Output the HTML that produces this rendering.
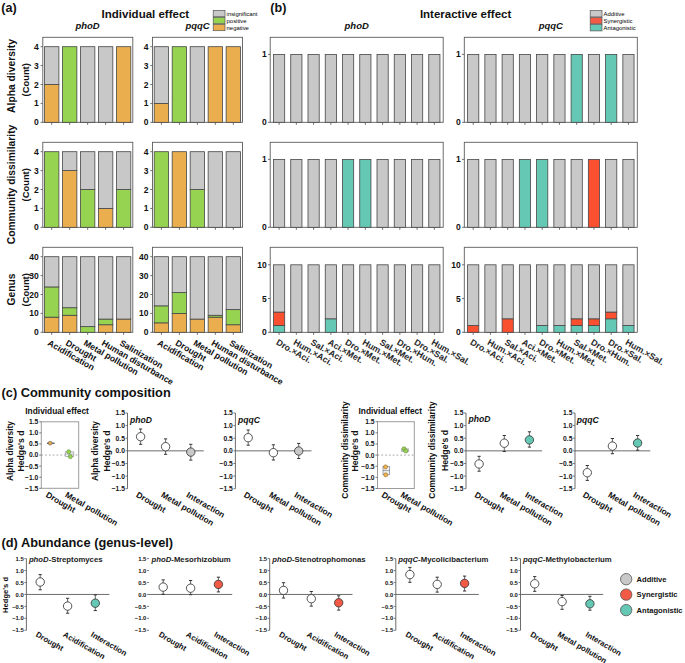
<!DOCTYPE html>
<html><head><meta charset="utf-8"><style>
html,body{margin:0;padding:0;background:#fff;}
svg{display:block;}
</style></head><body>
<svg width="685" height="663" viewBox="0 0 685 663" font-family="Liberation Sans, sans-serif">
<rect width="685" height="663" fill="#fff"/>
<rect x="42.8" y="37.3" width="90" height="85" fill="none" stroke="#5c5c5c" stroke-width="0.9"/>
<rect x="44.5" y="84.5" width="14.4" height="37.8" fill="#ebae4e" stroke="#464646" stroke-width="0.8"/>
<rect x="44.5" y="46.7" width="14.4" height="37.8" fill="#c8c8c8" stroke="#464646" stroke-width="0.8"/>
<rect x="62.48" y="46.7" width="14.4" height="75.6" fill="#96d350" stroke="#464646" stroke-width="0.8"/>
<rect x="80.46" y="46.7" width="14.4" height="75.6" fill="#c8c8c8" stroke="#464646" stroke-width="0.8"/>
<rect x="98.44" y="46.7" width="14.4" height="75.6" fill="#c8c8c8" stroke="#464646" stroke-width="0.8"/>
<rect x="116.42" y="46.7" width="14.4" height="75.6" fill="#ebae4e" stroke="#464646" stroke-width="0.8"/>
<line x1="51.7" y1="122.3" x2="51.7" y2="124.8" stroke="#5c5c5c" stroke-width="0.9"/>
<line x1="69.68" y1="122.3" x2="69.68" y2="124.8" stroke="#5c5c5c" stroke-width="0.9"/>
<line x1="87.66" y1="122.3" x2="87.66" y2="124.8" stroke="#5c5c5c" stroke-width="0.9"/>
<line x1="105.64" y1="122.3" x2="105.64" y2="124.8" stroke="#5c5c5c" stroke-width="0.9"/>
<line x1="123.62" y1="122.3" x2="123.62" y2="124.8" stroke="#5c5c5c" stroke-width="0.9"/>
<line x1="40.6" y1="122.3" x2="42.8" y2="122.3" stroke="#5c5c5c" stroke-width="0.9"/>
<text x="38.8" y="125.36" font-size="8.5" font-weight="bold" font-style="normal" text-anchor="end" fill="#111">0</text>
<line x1="40.6" y1="103.4" x2="42.8" y2="103.4" stroke="#5c5c5c" stroke-width="0.9"/>
<text x="38.8" y="106.46" font-size="8.5" font-weight="bold" font-style="normal" text-anchor="end" fill="#111">1</text>
<line x1="40.6" y1="84.5" x2="42.8" y2="84.5" stroke="#5c5c5c" stroke-width="0.9"/>
<text x="38.8" y="87.56" font-size="8.5" font-weight="bold" font-style="normal" text-anchor="end" fill="#111">2</text>
<line x1="40.6" y1="65.6" x2="42.8" y2="65.6" stroke="#5c5c5c" stroke-width="0.9"/>
<text x="38.8" y="68.66" font-size="8.5" font-weight="bold" font-style="normal" text-anchor="end" fill="#111">3</text>
<line x1="40.6" y1="46.7" x2="42.8" y2="46.7" stroke="#5c5c5c" stroke-width="0.9"/>
<text x="38.8" y="49.76" font-size="8.5" font-weight="bold" font-style="normal" text-anchor="end" fill="#111">4</text>
<rect x="152.5" y="37.3" width="90" height="85" fill="none" stroke="#5c5c5c" stroke-width="0.9"/>
<rect x="154.2" y="103.4" width="14.4" height="18.9" fill="#ebae4e" stroke="#464646" stroke-width="0.8"/>
<rect x="154.2" y="46.7" width="14.4" height="56.7" fill="#c8c8c8" stroke="#464646" stroke-width="0.8"/>
<rect x="172.18" y="46.7" width="14.4" height="75.6" fill="#96d350" stroke="#464646" stroke-width="0.8"/>
<rect x="190.16" y="46.7" width="14.4" height="75.6" fill="#c8c8c8" stroke="#464646" stroke-width="0.8"/>
<rect x="208.14" y="46.7" width="14.4" height="75.6" fill="#ebae4e" stroke="#464646" stroke-width="0.8"/>
<rect x="226.12" y="46.7" width="14.4" height="75.6" fill="#ebae4e" stroke="#464646" stroke-width="0.8"/>
<line x1="161.4" y1="122.3" x2="161.4" y2="124.8" stroke="#5c5c5c" stroke-width="0.9"/>
<line x1="179.38" y1="122.3" x2="179.38" y2="124.8" stroke="#5c5c5c" stroke-width="0.9"/>
<line x1="197.36" y1="122.3" x2="197.36" y2="124.8" stroke="#5c5c5c" stroke-width="0.9"/>
<line x1="215.34" y1="122.3" x2="215.34" y2="124.8" stroke="#5c5c5c" stroke-width="0.9"/>
<line x1="233.32" y1="122.3" x2="233.32" y2="124.8" stroke="#5c5c5c" stroke-width="0.9"/>
<line x1="150.3" y1="122.3" x2="152.5" y2="122.3" stroke="#5c5c5c" stroke-width="0.9"/>
<text x="148.5" y="125.36" font-size="8.5" font-weight="bold" font-style="normal" text-anchor="end" fill="#111">0</text>
<line x1="150.3" y1="103.4" x2="152.5" y2="103.4" stroke="#5c5c5c" stroke-width="0.9"/>
<text x="148.5" y="106.46" font-size="8.5" font-weight="bold" font-style="normal" text-anchor="end" fill="#111">1</text>
<line x1="150.3" y1="84.5" x2="152.5" y2="84.5" stroke="#5c5c5c" stroke-width="0.9"/>
<text x="148.5" y="87.56" font-size="8.5" font-weight="bold" font-style="normal" text-anchor="end" fill="#111">2</text>
<line x1="150.3" y1="65.6" x2="152.5" y2="65.6" stroke="#5c5c5c" stroke-width="0.9"/>
<text x="148.5" y="68.66" font-size="8.5" font-weight="bold" font-style="normal" text-anchor="end" fill="#111">3</text>
<line x1="150.3" y1="46.7" x2="152.5" y2="46.7" stroke="#5c5c5c" stroke-width="0.9"/>
<text x="148.5" y="49.76" font-size="8.5" font-weight="bold" font-style="normal" text-anchor="end" fill="#111">4</text>
<rect x="42.8" y="142.3" width="90" height="85" fill="none" stroke="#5c5c5c" stroke-width="0.9"/>
<rect x="44.5" y="151.7" width="14.4" height="75.6" fill="#96d350" stroke="#464646" stroke-width="0.8"/>
<rect x="62.48" y="170.6" width="14.4" height="56.7" fill="#ebae4e" stroke="#464646" stroke-width="0.8"/>
<rect x="62.48" y="151.7" width="14.4" height="18.9" fill="#c8c8c8" stroke="#464646" stroke-width="0.8"/>
<rect x="80.46" y="189.5" width="14.4" height="37.8" fill="#96d350" stroke="#464646" stroke-width="0.8"/>
<rect x="80.46" y="151.7" width="14.4" height="37.8" fill="#c8c8c8" stroke="#464646" stroke-width="0.8"/>
<rect x="98.44" y="208.4" width="14.4" height="18.9" fill="#ebae4e" stroke="#464646" stroke-width="0.8"/>
<rect x="98.44" y="151.7" width="14.4" height="56.7" fill="#c8c8c8" stroke="#464646" stroke-width="0.8"/>
<rect x="116.42" y="189.5" width="14.4" height="37.8" fill="#96d350" stroke="#464646" stroke-width="0.8"/>
<rect x="116.42" y="151.7" width="14.4" height="37.8" fill="#c8c8c8" stroke="#464646" stroke-width="0.8"/>
<line x1="51.7" y1="227.3" x2="51.7" y2="229.8" stroke="#5c5c5c" stroke-width="0.9"/>
<line x1="69.68" y1="227.3" x2="69.68" y2="229.8" stroke="#5c5c5c" stroke-width="0.9"/>
<line x1="87.66" y1="227.3" x2="87.66" y2="229.8" stroke="#5c5c5c" stroke-width="0.9"/>
<line x1="105.64" y1="227.3" x2="105.64" y2="229.8" stroke="#5c5c5c" stroke-width="0.9"/>
<line x1="123.62" y1="227.3" x2="123.62" y2="229.8" stroke="#5c5c5c" stroke-width="0.9"/>
<line x1="40.6" y1="227.3" x2="42.8" y2="227.3" stroke="#5c5c5c" stroke-width="0.9"/>
<text x="38.8" y="230.36" font-size="8.5" font-weight="bold" font-style="normal" text-anchor="end" fill="#111">0</text>
<line x1="40.6" y1="208.4" x2="42.8" y2="208.4" stroke="#5c5c5c" stroke-width="0.9"/>
<text x="38.8" y="211.46" font-size="8.5" font-weight="bold" font-style="normal" text-anchor="end" fill="#111">1</text>
<line x1="40.6" y1="189.5" x2="42.8" y2="189.5" stroke="#5c5c5c" stroke-width="0.9"/>
<text x="38.8" y="192.56" font-size="8.5" font-weight="bold" font-style="normal" text-anchor="end" fill="#111">2</text>
<line x1="40.6" y1="170.6" x2="42.8" y2="170.6" stroke="#5c5c5c" stroke-width="0.9"/>
<text x="38.8" y="173.66" font-size="8.5" font-weight="bold" font-style="normal" text-anchor="end" fill="#111">3</text>
<line x1="40.6" y1="151.7" x2="42.8" y2="151.7" stroke="#5c5c5c" stroke-width="0.9"/>
<text x="38.8" y="154.76" font-size="8.5" font-weight="bold" font-style="normal" text-anchor="end" fill="#111">4</text>
<rect x="152.5" y="142.3" width="90" height="85" fill="none" stroke="#5c5c5c" stroke-width="0.9"/>
<rect x="154.2" y="151.7" width="14.4" height="75.6" fill="#96d350" stroke="#464646" stroke-width="0.8"/>
<rect x="172.18" y="151.7" width="14.4" height="75.6" fill="#ebae4e" stroke="#464646" stroke-width="0.8"/>
<rect x="190.16" y="189.5" width="14.4" height="37.8" fill="#96d350" stroke="#464646" stroke-width="0.8"/>
<rect x="190.16" y="151.7" width="14.4" height="37.8" fill="#c8c8c8" stroke="#464646" stroke-width="0.8"/>
<rect x="208.14" y="151.7" width="14.4" height="75.6" fill="#c8c8c8" stroke="#464646" stroke-width="0.8"/>
<rect x="226.12" y="151.7" width="14.4" height="75.6" fill="#c8c8c8" stroke="#464646" stroke-width="0.8"/>
<line x1="161.4" y1="227.3" x2="161.4" y2="229.8" stroke="#5c5c5c" stroke-width="0.9"/>
<line x1="179.38" y1="227.3" x2="179.38" y2="229.8" stroke="#5c5c5c" stroke-width="0.9"/>
<line x1="197.36" y1="227.3" x2="197.36" y2="229.8" stroke="#5c5c5c" stroke-width="0.9"/>
<line x1="215.34" y1="227.3" x2="215.34" y2="229.8" stroke="#5c5c5c" stroke-width="0.9"/>
<line x1="233.32" y1="227.3" x2="233.32" y2="229.8" stroke="#5c5c5c" stroke-width="0.9"/>
<line x1="150.3" y1="227.3" x2="152.5" y2="227.3" stroke="#5c5c5c" stroke-width="0.9"/>
<text x="148.5" y="230.36" font-size="8.5" font-weight="bold" font-style="normal" text-anchor="end" fill="#111">0</text>
<line x1="150.3" y1="208.4" x2="152.5" y2="208.4" stroke="#5c5c5c" stroke-width="0.9"/>
<text x="148.5" y="211.46" font-size="8.5" font-weight="bold" font-style="normal" text-anchor="end" fill="#111">1</text>
<line x1="150.3" y1="189.5" x2="152.5" y2="189.5" stroke="#5c5c5c" stroke-width="0.9"/>
<text x="148.5" y="192.56" font-size="8.5" font-weight="bold" font-style="normal" text-anchor="end" fill="#111">2</text>
<line x1="150.3" y1="170.6" x2="152.5" y2="170.6" stroke="#5c5c5c" stroke-width="0.9"/>
<text x="148.5" y="173.66" font-size="8.5" font-weight="bold" font-style="normal" text-anchor="end" fill="#111">3</text>
<line x1="150.3" y1="151.7" x2="152.5" y2="151.7" stroke="#5c5c5c" stroke-width="0.9"/>
<text x="148.5" y="154.76" font-size="8.5" font-weight="bold" font-style="normal" text-anchor="end" fill="#111">4</text>
<rect x="42.8" y="247.3" width="90" height="85" fill="none" stroke="#5c5c5c" stroke-width="0.9"/>
<rect x="44.5" y="317.18" width="14.4" height="15.12" fill="#ebae4e" stroke="#464646" stroke-width="0.8"/>
<rect x="44.5" y="286.94" width="14.4" height="30.24" fill="#96d350" stroke="#464646" stroke-width="0.8"/>
<rect x="44.5" y="256.7" width="14.4" height="30.24" fill="#c8c8c8" stroke="#464646" stroke-width="0.8"/>
<rect x="62.48" y="315.29" width="14.4" height="17.01" fill="#ebae4e" stroke="#464646" stroke-width="0.8"/>
<rect x="62.48" y="307.73" width="14.4" height="7.56" fill="#96d350" stroke="#464646" stroke-width="0.8"/>
<rect x="62.48" y="256.7" width="14.4" height="51.03" fill="#c8c8c8" stroke="#464646" stroke-width="0.8"/>
<rect x="80.46" y="326.63" width="14.4" height="5.67" fill="#96d350" stroke="#464646" stroke-width="0.8"/>
<rect x="80.46" y="256.7" width="14.4" height="69.93" fill="#c8c8c8" stroke="#464646" stroke-width="0.8"/>
<rect x="98.44" y="324.74" width="14.4" height="7.56" fill="#ebae4e" stroke="#464646" stroke-width="0.8"/>
<rect x="98.44" y="319.07" width="14.4" height="5.67" fill="#96d350" stroke="#464646" stroke-width="0.8"/>
<rect x="98.44" y="256.7" width="14.4" height="62.37" fill="#c8c8c8" stroke="#464646" stroke-width="0.8"/>
<rect x="116.42" y="319.07" width="14.4" height="13.23" fill="#ebae4e" stroke="#464646" stroke-width="0.8"/>
<rect x="116.42" y="256.7" width="14.4" height="62.37" fill="#c8c8c8" stroke="#464646" stroke-width="0.8"/>
<line x1="51.7" y1="332.3" x2="51.7" y2="334.8" stroke="#5c5c5c" stroke-width="0.9"/>
<line x1="69.68" y1="332.3" x2="69.68" y2="334.8" stroke="#5c5c5c" stroke-width="0.9"/>
<line x1="87.66" y1="332.3" x2="87.66" y2="334.8" stroke="#5c5c5c" stroke-width="0.9"/>
<line x1="105.64" y1="332.3" x2="105.64" y2="334.8" stroke="#5c5c5c" stroke-width="0.9"/>
<line x1="123.62" y1="332.3" x2="123.62" y2="334.8" stroke="#5c5c5c" stroke-width="0.9"/>
<line x1="40.6" y1="332.3" x2="42.8" y2="332.3" stroke="#5c5c5c" stroke-width="0.9"/>
<text x="38.8" y="335.36" font-size="8.5" font-weight="bold" font-style="normal" text-anchor="end" fill="#111">0</text>
<line x1="40.6" y1="313.4" x2="42.8" y2="313.4" stroke="#5c5c5c" stroke-width="0.9"/>
<text x="38.8" y="316.46" font-size="8.5" font-weight="bold" font-style="normal" text-anchor="end" fill="#111">10</text>
<line x1="40.6" y1="294.5" x2="42.8" y2="294.5" stroke="#5c5c5c" stroke-width="0.9"/>
<text x="38.8" y="297.56" font-size="8.5" font-weight="bold" font-style="normal" text-anchor="end" fill="#111">20</text>
<line x1="40.6" y1="275.6" x2="42.8" y2="275.6" stroke="#5c5c5c" stroke-width="0.9"/>
<text x="38.8" y="278.66" font-size="8.5" font-weight="bold" font-style="normal" text-anchor="end" fill="#111">30</text>
<line x1="40.6" y1="256.7" x2="42.8" y2="256.7" stroke="#5c5c5c" stroke-width="0.9"/>
<text x="38.8" y="259.76" font-size="8.5" font-weight="bold" font-style="normal" text-anchor="end" fill="#111">40</text>
<rect x="152.5" y="247.3" width="90" height="85" fill="none" stroke="#5c5c5c" stroke-width="0.9"/>
<rect x="154.2" y="322.85" width="14.4" height="9.45" fill="#ebae4e" stroke="#464646" stroke-width="0.8"/>
<rect x="154.2" y="305.84" width="14.4" height="17.01" fill="#96d350" stroke="#464646" stroke-width="0.8"/>
<rect x="154.2" y="256.7" width="14.4" height="49.14" fill="#c8c8c8" stroke="#464646" stroke-width="0.8"/>
<rect x="172.18" y="313.4" width="14.4" height="18.9" fill="#ebae4e" stroke="#464646" stroke-width="0.8"/>
<rect x="172.18" y="292.61" width="14.4" height="20.79" fill="#96d350" stroke="#464646" stroke-width="0.8"/>
<rect x="172.18" y="256.7" width="14.4" height="35.91" fill="#c8c8c8" stroke="#464646" stroke-width="0.8"/>
<rect x="190.16" y="319.07" width="14.4" height="13.23" fill="#ebae4e" stroke="#464646" stroke-width="0.8"/>
<rect x="190.16" y="256.7" width="14.4" height="62.37" fill="#c8c8c8" stroke="#464646" stroke-width="0.8"/>
<rect x="208.14" y="317.18" width="14.4" height="15.12" fill="#ebae4e" stroke="#464646" stroke-width="0.8"/>
<rect x="208.14" y="315.29" width="14.4" height="1.89" fill="#96d350" stroke="#464646" stroke-width="0.8"/>
<rect x="208.14" y="256.7" width="14.4" height="58.59" fill="#c8c8c8" stroke="#464646" stroke-width="0.8"/>
<rect x="226.12" y="324.74" width="14.4" height="7.56" fill="#ebae4e" stroke="#464646" stroke-width="0.8"/>
<rect x="226.12" y="309.62" width="14.4" height="15.12" fill="#96d350" stroke="#464646" stroke-width="0.8"/>
<rect x="226.12" y="256.7" width="14.4" height="52.92" fill="#c8c8c8" stroke="#464646" stroke-width="0.8"/>
<line x1="161.4" y1="332.3" x2="161.4" y2="334.8" stroke="#5c5c5c" stroke-width="0.9"/>
<line x1="179.38" y1="332.3" x2="179.38" y2="334.8" stroke="#5c5c5c" stroke-width="0.9"/>
<line x1="197.36" y1="332.3" x2="197.36" y2="334.8" stroke="#5c5c5c" stroke-width="0.9"/>
<line x1="215.34" y1="332.3" x2="215.34" y2="334.8" stroke="#5c5c5c" stroke-width="0.9"/>
<line x1="233.32" y1="332.3" x2="233.32" y2="334.8" stroke="#5c5c5c" stroke-width="0.9"/>
<line x1="150.3" y1="332.3" x2="152.5" y2="332.3" stroke="#5c5c5c" stroke-width="0.9"/>
<text x="148.5" y="335.36" font-size="8.5" font-weight="bold" font-style="normal" text-anchor="end" fill="#111">0</text>
<line x1="150.3" y1="313.4" x2="152.5" y2="313.4" stroke="#5c5c5c" stroke-width="0.9"/>
<text x="148.5" y="316.46" font-size="8.5" font-weight="bold" font-style="normal" text-anchor="end" fill="#111">10</text>
<line x1="150.3" y1="294.5" x2="152.5" y2="294.5" stroke="#5c5c5c" stroke-width="0.9"/>
<text x="148.5" y="297.56" font-size="8.5" font-weight="bold" font-style="normal" text-anchor="end" fill="#111">20</text>
<line x1="150.3" y1="275.6" x2="152.5" y2="275.6" stroke="#5c5c5c" stroke-width="0.9"/>
<text x="148.5" y="278.66" font-size="8.5" font-weight="bold" font-style="normal" text-anchor="end" fill="#111">30</text>
<line x1="150.3" y1="256.7" x2="152.5" y2="256.7" stroke="#5c5c5c" stroke-width="0.9"/>
<text x="148.5" y="259.76" font-size="8.5" font-weight="bold" font-style="normal" text-anchor="end" fill="#111">40</text>
<rect x="270.2" y="37.3" width="173" height="85" fill="none" stroke="#5c5c5c" stroke-width="0.9"/>
<rect x="273.5" y="54.4" width="11.2" height="67.9" fill="#c8c8c8" stroke="#464646" stroke-width="0.8"/>
<rect x="290.75" y="54.4" width="11.2" height="67.9" fill="#c8c8c8" stroke="#464646" stroke-width="0.8"/>
<rect x="308" y="54.4" width="11.2" height="67.9" fill="#c8c8c8" stroke="#464646" stroke-width="0.8"/>
<rect x="325.25" y="54.4" width="11.2" height="67.9" fill="#c8c8c8" stroke="#464646" stroke-width="0.8"/>
<rect x="342.5" y="54.4" width="11.2" height="67.9" fill="#c8c8c8" stroke="#464646" stroke-width="0.8"/>
<rect x="359.75" y="54.4" width="11.2" height="67.9" fill="#c8c8c8" stroke="#464646" stroke-width="0.8"/>
<rect x="377" y="54.4" width="11.2" height="67.9" fill="#c8c8c8" stroke="#464646" stroke-width="0.8"/>
<rect x="394.25" y="54.4" width="11.2" height="67.9" fill="#c8c8c8" stroke="#464646" stroke-width="0.8"/>
<rect x="411.5" y="54.4" width="11.2" height="67.9" fill="#c8c8c8" stroke="#464646" stroke-width="0.8"/>
<rect x="428.75" y="54.4" width="11.2" height="67.9" fill="#c8c8c8" stroke="#464646" stroke-width="0.8"/>
<line x1="279.1" y1="122.3" x2="279.1" y2="124.8" stroke="#5c5c5c" stroke-width="0.9"/>
<line x1="296.35" y1="122.3" x2="296.35" y2="124.8" stroke="#5c5c5c" stroke-width="0.9"/>
<line x1="313.6" y1="122.3" x2="313.6" y2="124.8" stroke="#5c5c5c" stroke-width="0.9"/>
<line x1="330.85" y1="122.3" x2="330.85" y2="124.8" stroke="#5c5c5c" stroke-width="0.9"/>
<line x1="348.1" y1="122.3" x2="348.1" y2="124.8" stroke="#5c5c5c" stroke-width="0.9"/>
<line x1="365.35" y1="122.3" x2="365.35" y2="124.8" stroke="#5c5c5c" stroke-width="0.9"/>
<line x1="382.6" y1="122.3" x2="382.6" y2="124.8" stroke="#5c5c5c" stroke-width="0.9"/>
<line x1="399.85" y1="122.3" x2="399.85" y2="124.8" stroke="#5c5c5c" stroke-width="0.9"/>
<line x1="417.1" y1="122.3" x2="417.1" y2="124.8" stroke="#5c5c5c" stroke-width="0.9"/>
<line x1="434.35" y1="122.3" x2="434.35" y2="124.8" stroke="#5c5c5c" stroke-width="0.9"/>
<line x1="268" y1="122.3" x2="270.2" y2="122.3" stroke="#5c5c5c" stroke-width="0.9"/>
<text x="266.7" y="125.36" font-size="8.5" font-weight="bold" font-style="normal" text-anchor="end" fill="#111">0</text>
<line x1="268" y1="54.4" x2="270.2" y2="54.4" stroke="#5c5c5c" stroke-width="0.9"/>
<text x="266.7" y="57.46" font-size="8.5" font-weight="bold" font-style="normal" text-anchor="end" fill="#111">1</text>
<rect x="464.3" y="37.3" width="173" height="85" fill="none" stroke="#5c5c5c" stroke-width="0.9"/>
<rect x="467.6" y="54.4" width="11.2" height="67.9" fill="#c8c8c8" stroke="#464646" stroke-width="0.8"/>
<rect x="484.85" y="54.4" width="11.2" height="67.9" fill="#c8c8c8" stroke="#464646" stroke-width="0.8"/>
<rect x="502.1" y="54.4" width="11.2" height="67.9" fill="#c8c8c8" stroke="#464646" stroke-width="0.8"/>
<rect x="519.35" y="54.4" width="11.2" height="67.9" fill="#c8c8c8" stroke="#464646" stroke-width="0.8"/>
<rect x="536.6" y="54.4" width="11.2" height="67.9" fill="#c8c8c8" stroke="#464646" stroke-width="0.8"/>
<rect x="553.85" y="54.4" width="11.2" height="67.9" fill="#c8c8c8" stroke="#464646" stroke-width="0.8"/>
<rect x="571.1" y="54.4" width="11.2" height="67.9" fill="#64c8b4" stroke="#464646" stroke-width="0.8"/>
<rect x="588.35" y="54.4" width="11.2" height="67.9" fill="#c8c8c8" stroke="#464646" stroke-width="0.8"/>
<rect x="605.6" y="54.4" width="11.2" height="67.9" fill="#64c8b4" stroke="#464646" stroke-width="0.8"/>
<rect x="622.85" y="54.4" width="11.2" height="67.9" fill="#c8c8c8" stroke="#464646" stroke-width="0.8"/>
<line x1="473.2" y1="122.3" x2="473.2" y2="124.8" stroke="#5c5c5c" stroke-width="0.9"/>
<line x1="490.45" y1="122.3" x2="490.45" y2="124.8" stroke="#5c5c5c" stroke-width="0.9"/>
<line x1="507.7" y1="122.3" x2="507.7" y2="124.8" stroke="#5c5c5c" stroke-width="0.9"/>
<line x1="524.95" y1="122.3" x2="524.95" y2="124.8" stroke="#5c5c5c" stroke-width="0.9"/>
<line x1="542.2" y1="122.3" x2="542.2" y2="124.8" stroke="#5c5c5c" stroke-width="0.9"/>
<line x1="559.45" y1="122.3" x2="559.45" y2="124.8" stroke="#5c5c5c" stroke-width="0.9"/>
<line x1="576.7" y1="122.3" x2="576.7" y2="124.8" stroke="#5c5c5c" stroke-width="0.9"/>
<line x1="593.95" y1="122.3" x2="593.95" y2="124.8" stroke="#5c5c5c" stroke-width="0.9"/>
<line x1="611.2" y1="122.3" x2="611.2" y2="124.8" stroke="#5c5c5c" stroke-width="0.9"/>
<line x1="628.45" y1="122.3" x2="628.45" y2="124.8" stroke="#5c5c5c" stroke-width="0.9"/>
<line x1="462.1" y1="122.3" x2="464.3" y2="122.3" stroke="#5c5c5c" stroke-width="0.9"/>
<text x="460.8" y="125.36" font-size="8.5" font-weight="bold" font-style="normal" text-anchor="end" fill="#111">0</text>
<line x1="462.1" y1="54.4" x2="464.3" y2="54.4" stroke="#5c5c5c" stroke-width="0.9"/>
<text x="460.8" y="57.46" font-size="8.5" font-weight="bold" font-style="normal" text-anchor="end" fill="#111">1</text>
<rect x="270.2" y="142.3" width="173" height="85" fill="none" stroke="#5c5c5c" stroke-width="0.9"/>
<rect x="273.5" y="159.4" width="11.2" height="67.9" fill="#c8c8c8" stroke="#464646" stroke-width="0.8"/>
<rect x="290.75" y="159.4" width="11.2" height="67.9" fill="#c8c8c8" stroke="#464646" stroke-width="0.8"/>
<rect x="308" y="159.4" width="11.2" height="67.9" fill="#c8c8c8" stroke="#464646" stroke-width="0.8"/>
<rect x="325.25" y="159.4" width="11.2" height="67.9" fill="#c8c8c8" stroke="#464646" stroke-width="0.8"/>
<rect x="342.5" y="159.4" width="11.2" height="67.9" fill="#64c8b4" stroke="#464646" stroke-width="0.8"/>
<rect x="359.75" y="159.4" width="11.2" height="67.9" fill="#64c8b4" stroke="#464646" stroke-width="0.8"/>
<rect x="377" y="159.4" width="11.2" height="67.9" fill="#c8c8c8" stroke="#464646" stroke-width="0.8"/>
<rect x="394.25" y="159.4" width="11.2" height="67.9" fill="#c8c8c8" stroke="#464646" stroke-width="0.8"/>
<rect x="411.5" y="159.4" width="11.2" height="67.9" fill="#c8c8c8" stroke="#464646" stroke-width="0.8"/>
<rect x="428.75" y="159.4" width="11.2" height="67.9" fill="#c8c8c8" stroke="#464646" stroke-width="0.8"/>
<line x1="279.1" y1="227.3" x2="279.1" y2="229.8" stroke="#5c5c5c" stroke-width="0.9"/>
<line x1="296.35" y1="227.3" x2="296.35" y2="229.8" stroke="#5c5c5c" stroke-width="0.9"/>
<line x1="313.6" y1="227.3" x2="313.6" y2="229.8" stroke="#5c5c5c" stroke-width="0.9"/>
<line x1="330.85" y1="227.3" x2="330.85" y2="229.8" stroke="#5c5c5c" stroke-width="0.9"/>
<line x1="348.1" y1="227.3" x2="348.1" y2="229.8" stroke="#5c5c5c" stroke-width="0.9"/>
<line x1="365.35" y1="227.3" x2="365.35" y2="229.8" stroke="#5c5c5c" stroke-width="0.9"/>
<line x1="382.6" y1="227.3" x2="382.6" y2="229.8" stroke="#5c5c5c" stroke-width="0.9"/>
<line x1="399.85" y1="227.3" x2="399.85" y2="229.8" stroke="#5c5c5c" stroke-width="0.9"/>
<line x1="417.1" y1="227.3" x2="417.1" y2="229.8" stroke="#5c5c5c" stroke-width="0.9"/>
<line x1="434.35" y1="227.3" x2="434.35" y2="229.8" stroke="#5c5c5c" stroke-width="0.9"/>
<line x1="268" y1="227.3" x2="270.2" y2="227.3" stroke="#5c5c5c" stroke-width="0.9"/>
<text x="266.7" y="230.36" font-size="8.5" font-weight="bold" font-style="normal" text-anchor="end" fill="#111">0</text>
<line x1="268" y1="159.4" x2="270.2" y2="159.4" stroke="#5c5c5c" stroke-width="0.9"/>
<text x="266.7" y="162.46" font-size="8.5" font-weight="bold" font-style="normal" text-anchor="end" fill="#111">1</text>
<rect x="464.3" y="142.3" width="173" height="85" fill="none" stroke="#5c5c5c" stroke-width="0.9"/>
<rect x="467.6" y="159.4" width="11.2" height="67.9" fill="#c8c8c8" stroke="#464646" stroke-width="0.8"/>
<rect x="484.85" y="159.4" width="11.2" height="67.9" fill="#c8c8c8" stroke="#464646" stroke-width="0.8"/>
<rect x="502.1" y="159.4" width="11.2" height="67.9" fill="#c8c8c8" stroke="#464646" stroke-width="0.8"/>
<rect x="519.35" y="159.4" width="11.2" height="67.9" fill="#64c8b4" stroke="#464646" stroke-width="0.8"/>
<rect x="536.6" y="159.4" width="11.2" height="67.9" fill="#64c8b4" stroke="#464646" stroke-width="0.8"/>
<rect x="553.85" y="159.4" width="11.2" height="67.9" fill="#c8c8c8" stroke="#464646" stroke-width="0.8"/>
<rect x="571.1" y="159.4" width="11.2" height="67.9" fill="#c8c8c8" stroke="#464646" stroke-width="0.8"/>
<rect x="588.35" y="159.4" width="11.2" height="67.9" fill="#fa5030" stroke="#464646" stroke-width="0.8"/>
<rect x="605.6" y="159.4" width="11.2" height="67.9" fill="#c8c8c8" stroke="#464646" stroke-width="0.8"/>
<rect x="622.85" y="159.4" width="11.2" height="67.9" fill="#c8c8c8" stroke="#464646" stroke-width="0.8"/>
<line x1="473.2" y1="227.3" x2="473.2" y2="229.8" stroke="#5c5c5c" stroke-width="0.9"/>
<line x1="490.45" y1="227.3" x2="490.45" y2="229.8" stroke="#5c5c5c" stroke-width="0.9"/>
<line x1="507.7" y1="227.3" x2="507.7" y2="229.8" stroke="#5c5c5c" stroke-width="0.9"/>
<line x1="524.95" y1="227.3" x2="524.95" y2="229.8" stroke="#5c5c5c" stroke-width="0.9"/>
<line x1="542.2" y1="227.3" x2="542.2" y2="229.8" stroke="#5c5c5c" stroke-width="0.9"/>
<line x1="559.45" y1="227.3" x2="559.45" y2="229.8" stroke="#5c5c5c" stroke-width="0.9"/>
<line x1="576.7" y1="227.3" x2="576.7" y2="229.8" stroke="#5c5c5c" stroke-width="0.9"/>
<line x1="593.95" y1="227.3" x2="593.95" y2="229.8" stroke="#5c5c5c" stroke-width="0.9"/>
<line x1="611.2" y1="227.3" x2="611.2" y2="229.8" stroke="#5c5c5c" stroke-width="0.9"/>
<line x1="628.45" y1="227.3" x2="628.45" y2="229.8" stroke="#5c5c5c" stroke-width="0.9"/>
<line x1="462.1" y1="227.3" x2="464.3" y2="227.3" stroke="#5c5c5c" stroke-width="0.9"/>
<text x="460.8" y="230.36" font-size="8.5" font-weight="bold" font-style="normal" text-anchor="end" fill="#111">0</text>
<line x1="462.1" y1="159.4" x2="464.3" y2="159.4" stroke="#5c5c5c" stroke-width="0.9"/>
<text x="460.8" y="162.46" font-size="8.5" font-weight="bold" font-style="normal" text-anchor="end" fill="#111">1</text>
<rect x="270.2" y="247.3" width="173" height="85" fill="none" stroke="#5c5c5c" stroke-width="0.9"/>
<rect x="273.5" y="325.55" width="11.2" height="6.75" fill="#64c8b4" stroke="#464646" stroke-width="0.8"/>
<rect x="273.5" y="312.05" width="11.2" height="13.5" fill="#fa5030" stroke="#464646" stroke-width="0.8"/>
<rect x="273.5" y="264.8" width="11.2" height="47.25" fill="#c8c8c8" stroke="#464646" stroke-width="0.8"/>
<rect x="290.75" y="264.8" width="11.2" height="67.5" fill="#c8c8c8" stroke="#464646" stroke-width="0.8"/>
<rect x="308" y="264.8" width="11.2" height="67.5" fill="#c8c8c8" stroke="#464646" stroke-width="0.8"/>
<rect x="325.25" y="318.8" width="11.2" height="13.5" fill="#64c8b4" stroke="#464646" stroke-width="0.8"/>
<rect x="325.25" y="264.8" width="11.2" height="54" fill="#c8c8c8" stroke="#464646" stroke-width="0.8"/>
<rect x="342.5" y="264.8" width="11.2" height="67.5" fill="#c8c8c8" stroke="#464646" stroke-width="0.8"/>
<rect x="359.75" y="264.8" width="11.2" height="67.5" fill="#c8c8c8" stroke="#464646" stroke-width="0.8"/>
<rect x="377" y="264.8" width="11.2" height="67.5" fill="#c8c8c8" stroke="#464646" stroke-width="0.8"/>
<rect x="394.25" y="264.8" width="11.2" height="67.5" fill="#c8c8c8" stroke="#464646" stroke-width="0.8"/>
<rect x="411.5" y="264.8" width="11.2" height="67.5" fill="#c8c8c8" stroke="#464646" stroke-width="0.8"/>
<rect x="428.75" y="264.8" width="11.2" height="67.5" fill="#c8c8c8" stroke="#464646" stroke-width="0.8"/>
<line x1="279.1" y1="332.3" x2="279.1" y2="334.8" stroke="#5c5c5c" stroke-width="0.9"/>
<line x1="296.35" y1="332.3" x2="296.35" y2="334.8" stroke="#5c5c5c" stroke-width="0.9"/>
<line x1="313.6" y1="332.3" x2="313.6" y2="334.8" stroke="#5c5c5c" stroke-width="0.9"/>
<line x1="330.85" y1="332.3" x2="330.85" y2="334.8" stroke="#5c5c5c" stroke-width="0.9"/>
<line x1="348.1" y1="332.3" x2="348.1" y2="334.8" stroke="#5c5c5c" stroke-width="0.9"/>
<line x1="365.35" y1="332.3" x2="365.35" y2="334.8" stroke="#5c5c5c" stroke-width="0.9"/>
<line x1="382.6" y1="332.3" x2="382.6" y2="334.8" stroke="#5c5c5c" stroke-width="0.9"/>
<line x1="399.85" y1="332.3" x2="399.85" y2="334.8" stroke="#5c5c5c" stroke-width="0.9"/>
<line x1="417.1" y1="332.3" x2="417.1" y2="334.8" stroke="#5c5c5c" stroke-width="0.9"/>
<line x1="434.35" y1="332.3" x2="434.35" y2="334.8" stroke="#5c5c5c" stroke-width="0.9"/>
<line x1="268" y1="332.3" x2="270.2" y2="332.3" stroke="#5c5c5c" stroke-width="0.9"/>
<text x="266.7" y="335.36" font-size="8.5" font-weight="bold" font-style="normal" text-anchor="end" fill="#111">0</text>
<line x1="268" y1="298.55" x2="270.2" y2="298.55" stroke="#5c5c5c" stroke-width="0.9"/>
<text x="266.7" y="301.61" font-size="8.5" font-weight="bold" font-style="normal" text-anchor="end" fill="#111">5</text>
<line x1="268" y1="264.8" x2="270.2" y2="264.8" stroke="#5c5c5c" stroke-width="0.9"/>
<text x="266.7" y="267.86" font-size="8.5" font-weight="bold" font-style="normal" text-anchor="end" fill="#111">10</text>
<rect x="464.3" y="247.3" width="173" height="85" fill="none" stroke="#5c5c5c" stroke-width="0.9"/>
<rect x="467.6" y="325.55" width="11.2" height="6.75" fill="#fa5030" stroke="#464646" stroke-width="0.8"/>
<rect x="467.6" y="264.8" width="11.2" height="60.75" fill="#c8c8c8" stroke="#464646" stroke-width="0.8"/>
<rect x="484.85" y="264.8" width="11.2" height="67.5" fill="#c8c8c8" stroke="#464646" stroke-width="0.8"/>
<rect x="502.1" y="318.8" width="11.2" height="13.5" fill="#fa5030" stroke="#464646" stroke-width="0.8"/>
<rect x="502.1" y="264.8" width="11.2" height="54" fill="#c8c8c8" stroke="#464646" stroke-width="0.8"/>
<rect x="519.35" y="264.8" width="11.2" height="67.5" fill="#c8c8c8" stroke="#464646" stroke-width="0.8"/>
<rect x="536.6" y="325.55" width="11.2" height="6.75" fill="#64c8b4" stroke="#464646" stroke-width="0.8"/>
<rect x="536.6" y="264.8" width="11.2" height="60.75" fill="#c8c8c8" stroke="#464646" stroke-width="0.8"/>
<rect x="553.85" y="325.55" width="11.2" height="6.75" fill="#64c8b4" stroke="#464646" stroke-width="0.8"/>
<rect x="553.85" y="264.8" width="11.2" height="60.75" fill="#c8c8c8" stroke="#464646" stroke-width="0.8"/>
<rect x="571.1" y="325.55" width="11.2" height="6.75" fill="#64c8b4" stroke="#464646" stroke-width="0.8"/>
<rect x="571.1" y="318.8" width="11.2" height="6.75" fill="#fa5030" stroke="#464646" stroke-width="0.8"/>
<rect x="571.1" y="264.8" width="11.2" height="54" fill="#c8c8c8" stroke="#464646" stroke-width="0.8"/>
<rect x="588.35" y="325.55" width="11.2" height="6.75" fill="#64c8b4" stroke="#464646" stroke-width="0.8"/>
<rect x="588.35" y="318.8" width="11.2" height="6.75" fill="#fa5030" stroke="#464646" stroke-width="0.8"/>
<rect x="588.35" y="264.8" width="11.2" height="54" fill="#c8c8c8" stroke="#464646" stroke-width="0.8"/>
<rect x="605.6" y="318.8" width="11.2" height="13.5" fill="#64c8b4" stroke="#464646" stroke-width="0.8"/>
<rect x="605.6" y="312.05" width="11.2" height="6.75" fill="#fa5030" stroke="#464646" stroke-width="0.8"/>
<rect x="605.6" y="264.8" width="11.2" height="47.25" fill="#c8c8c8" stroke="#464646" stroke-width="0.8"/>
<rect x="622.85" y="325.55" width="11.2" height="6.75" fill="#64c8b4" stroke="#464646" stroke-width="0.8"/>
<rect x="622.85" y="264.8" width="11.2" height="60.75" fill="#c8c8c8" stroke="#464646" stroke-width="0.8"/>
<line x1="473.2" y1="332.3" x2="473.2" y2="334.8" stroke="#5c5c5c" stroke-width="0.9"/>
<line x1="490.45" y1="332.3" x2="490.45" y2="334.8" stroke="#5c5c5c" stroke-width="0.9"/>
<line x1="507.7" y1="332.3" x2="507.7" y2="334.8" stroke="#5c5c5c" stroke-width="0.9"/>
<line x1="524.95" y1="332.3" x2="524.95" y2="334.8" stroke="#5c5c5c" stroke-width="0.9"/>
<line x1="542.2" y1="332.3" x2="542.2" y2="334.8" stroke="#5c5c5c" stroke-width="0.9"/>
<line x1="559.45" y1="332.3" x2="559.45" y2="334.8" stroke="#5c5c5c" stroke-width="0.9"/>
<line x1="576.7" y1="332.3" x2="576.7" y2="334.8" stroke="#5c5c5c" stroke-width="0.9"/>
<line x1="593.95" y1="332.3" x2="593.95" y2="334.8" stroke="#5c5c5c" stroke-width="0.9"/>
<line x1="611.2" y1="332.3" x2="611.2" y2="334.8" stroke="#5c5c5c" stroke-width="0.9"/>
<line x1="628.45" y1="332.3" x2="628.45" y2="334.8" stroke="#5c5c5c" stroke-width="0.9"/>
<line x1="462.1" y1="332.3" x2="464.3" y2="332.3" stroke="#5c5c5c" stroke-width="0.9"/>
<text x="460.8" y="335.36" font-size="8.5" font-weight="bold" font-style="normal" text-anchor="end" fill="#111">0</text>
<line x1="462.1" y1="298.55" x2="464.3" y2="298.55" stroke="#5c5c5c" stroke-width="0.9"/>
<text x="460.8" y="301.61" font-size="8.5" font-weight="bold" font-style="normal" text-anchor="end" fill="#111">5</text>
<line x1="462.1" y1="264.8" x2="464.3" y2="264.8" stroke="#5c5c5c" stroke-width="0.9"/>
<text x="460.8" y="267.86" font-size="8.5" font-weight="bold" font-style="normal" text-anchor="end" fill="#111">10</text>
<text x="1.3" y="11.8" font-size="12.6" font-weight="bold" font-style="normal" text-anchor="start" fill="#111">(a)</text>
<text x="101.6" y="17.9" font-size="11.5" font-weight="bold" font-style="normal" text-anchor="start" fill="#111">Individual effect</text>
<text x="87.6" y="29" font-size="9.5" font-weight="bold" font-style="italic" text-anchor="middle" fill="#111">phoD</text>
<text x="197.6" y="29" font-size="9.5" font-weight="bold" font-style="italic" text-anchor="middle" fill="#111">pqqC</text>
<text x="270.3" y="11.8" font-size="12.6" font-weight="bold" font-style="normal" text-anchor="start" fill="#111">(b)</text>
<text x="419.9" y="17.9" font-size="11.5" font-weight="bold" font-style="normal" text-anchor="start" fill="#111">Interactive effect</text>
<text x="356.7" y="29" font-size="9.5" font-weight="bold" font-style="italic" text-anchor="middle" fill="#111">phoD</text>
<text x="550.8" y="29" font-size="9.5" font-weight="bold" font-style="italic" text-anchor="middle" fill="#111">pqqC</text>
<rect x="213.2" y="10.4" width="11.8" height="6.3" fill="#c8c8c8" stroke="#555" stroke-width="0.7"/>
<text x="226.6" y="15.6" font-size="5.9" font-weight="normal" font-style="normal" text-anchor="start" fill="#000">insignificant</text>
<rect x="213.2" y="17.4" width="11.8" height="6.3" fill="#96d350" stroke="#555" stroke-width="0.7"/>
<text x="226.6" y="22.6" font-size="5.9" font-weight="normal" font-style="normal" text-anchor="start" fill="#000">positive</text>
<rect x="213.2" y="24.4" width="11.8" height="6.3" fill="#ebae4e" stroke="#555" stroke-width="0.7"/>
<text x="226.6" y="29.6" font-size="5.9" font-weight="normal" font-style="normal" text-anchor="start" fill="#000">negative</text>
<rect x="590.2" y="10.6" width="11.8" height="6.3" fill="#c8c8c8" stroke="#555" stroke-width="0.7"/>
<text x="603.6" y="15.8" font-size="5.9" font-weight="normal" font-style="normal" text-anchor="start" fill="#000">Additive</text>
<rect x="590.2" y="17.6" width="11.8" height="6.3" fill="#f25a45" stroke="#555" stroke-width="0.7"/>
<text x="603.6" y="22.8" font-size="5.9" font-weight="normal" font-style="normal" text-anchor="start" fill="#000">Synergistic</text>
<rect x="590.2" y="24.6" width="11.8" height="6.3" fill="#64c8b4" stroke="#555" stroke-width="0.7"/>
<text x="603.6" y="29.8" font-size="5.9" font-weight="normal" font-style="normal" text-anchor="start" fill="#000">Antagonistic</text>
<text x="0" y="0" transform="translate(15.49,76) rotate(-90)" font-size="10.3" font-weight="bold" font-style="normal" text-anchor="middle" fill="#111">Alpha diversity</text>
<text x="0" y="0" transform="translate(28.57,79.8) rotate(-90)" font-size="9.4" font-weight="bold" font-style="normal" text-anchor="middle" fill="#111">(Count)</text>
<text x="0" y="0" transform="translate(15.49,184.5) rotate(-90)" font-size="10.3" font-weight="bold" font-style="normal" text-anchor="middle" fill="#111">Community dissimilarity</text>
<text x="0" y="0" transform="translate(28.57,184.8) rotate(-90)" font-size="9.4" font-weight="bold" font-style="normal" text-anchor="middle" fill="#111">(Count)</text>
<text x="0" y="0" transform="translate(15.49,289.5) rotate(-90)" font-size="10.3" font-weight="bold" font-style="normal" text-anchor="middle" fill="#111">Genus</text>
<text x="0" y="0" transform="translate(28.57,289.8) rotate(-90)" font-size="9.4" font-weight="bold" font-style="normal" text-anchor="middle" fill="#111">(Count)</text>
<text x="0" y="0" transform="translate(47.1,344.7) rotate(30)" font-size="8.7" font-weight="bold" font-style="normal" text-anchor="start" fill="#111">Acidification</text>
<text x="0" y="0" transform="translate(65.08,344.7) rotate(30)" font-size="8.7" font-weight="bold" font-style="normal" text-anchor="start" fill="#111">Drought</text>
<text x="0" y="0" transform="translate(83.06,344.7) rotate(30)" font-size="8.7" font-weight="bold" font-style="normal" text-anchor="start" fill="#111">Metal pollution</text>
<text x="0" y="0" transform="translate(101.04,344.7) rotate(30)" font-size="8.7" font-weight="bold" font-style="normal" text-anchor="start" fill="#111">Human disturbance</text>
<text x="0" y="0" transform="translate(119.02,344.7) rotate(30)" font-size="8.7" font-weight="bold" font-style="normal" text-anchor="start" fill="#111">Salinization</text>
<text x="0" y="0" transform="translate(156.8,344.7) rotate(30)" font-size="8.7" font-weight="bold" font-style="normal" text-anchor="start" fill="#111">Acidification</text>
<text x="0" y="0" transform="translate(174.78,344.7) rotate(30)" font-size="8.7" font-weight="bold" font-style="normal" text-anchor="start" fill="#111">Drought</text>
<text x="0" y="0" transform="translate(192.76,344.7) rotate(30)" font-size="8.7" font-weight="bold" font-style="normal" text-anchor="start" fill="#111">Metal pollution</text>
<text x="0" y="0" transform="translate(210.74,344.7) rotate(30)" font-size="8.7" font-weight="bold" font-style="normal" text-anchor="start" fill="#111">Human disturbance</text>
<text x="0" y="0" transform="translate(228.72,344.7) rotate(30)" font-size="8.7" font-weight="bold" font-style="normal" text-anchor="start" fill="#111">Salinization</text>
<text x="0" y="0" transform="translate(275.4,344) rotate(30)" font-size="8.8" font-weight="bold" font-style="normal" text-anchor="start" fill="#2a2a2a">Dro.×Aci.</text>
<text x="0" y="0" transform="translate(292.65,344) rotate(30)" font-size="8.8" font-weight="bold" font-style="normal" text-anchor="start" fill="#2a2a2a">Hum.×Aci.</text>
<text x="0" y="0" transform="translate(309.9,344) rotate(30)" font-size="8.8" font-weight="bold" font-style="normal" text-anchor="start" fill="#2a2a2a">Sal.×Aci.</text>
<text x="0" y="0" transform="translate(327.15,344) rotate(30)" font-size="8.8" font-weight="bold" font-style="normal" text-anchor="start" fill="#2a2a2a">Aci.×Met.</text>
<text x="0" y="0" transform="translate(344.4,344) rotate(30)" font-size="8.8" font-weight="bold" font-style="normal" text-anchor="start" fill="#2a2a2a">Dro.×Met.</text>
<text x="0" y="0" transform="translate(361.65,344) rotate(30)" font-size="8.8" font-weight="bold" font-style="normal" text-anchor="start" fill="#2a2a2a">Hum.×Met.</text>
<text x="0" y="0" transform="translate(378.9,344) rotate(30)" font-size="8.8" font-weight="bold" font-style="normal" text-anchor="start" fill="#2a2a2a">Sal.×Met.</text>
<text x="0" y="0" transform="translate(396.15,344) rotate(30)" font-size="8.8" font-weight="bold" font-style="normal" text-anchor="start" fill="#2a2a2a">Dro.×Hum.</text>
<text x="0" y="0" transform="translate(413.4,344) rotate(30)" font-size="8.8" font-weight="bold" font-style="normal" text-anchor="start" fill="#2a2a2a">Dro.×Sal.</text>
<text x="0" y="0" transform="translate(430.65,344) rotate(30)" font-size="8.8" font-weight="bold" font-style="normal" text-anchor="start" fill="#2a2a2a">Hum.×Sal.</text>
<text x="0" y="0" transform="translate(469.5,344) rotate(30)" font-size="8.8" font-weight="bold" font-style="normal" text-anchor="start" fill="#2a2a2a">Dro.×Aci.</text>
<text x="0" y="0" transform="translate(486.75,344) rotate(30)" font-size="8.8" font-weight="bold" font-style="normal" text-anchor="start" fill="#2a2a2a">Hum.×Aci.</text>
<text x="0" y="0" transform="translate(504,344) rotate(30)" font-size="8.8" font-weight="bold" font-style="normal" text-anchor="start" fill="#2a2a2a">Sal.×Aci.</text>
<text x="0" y="0" transform="translate(521.25,344) rotate(30)" font-size="8.8" font-weight="bold" font-style="normal" text-anchor="start" fill="#2a2a2a">Aci.×Met.</text>
<text x="0" y="0" transform="translate(538.5,344) rotate(30)" font-size="8.8" font-weight="bold" font-style="normal" text-anchor="start" fill="#2a2a2a">Dro.×Met.</text>
<text x="0" y="0" transform="translate(555.75,344) rotate(30)" font-size="8.8" font-weight="bold" font-style="normal" text-anchor="start" fill="#2a2a2a">Hum.×Met.</text>
<text x="0" y="0" transform="translate(573,344) rotate(30)" font-size="8.8" font-weight="bold" font-style="normal" text-anchor="start" fill="#2a2a2a">Sal.×Met.</text>
<text x="0" y="0" transform="translate(590.25,344) rotate(30)" font-size="8.8" font-weight="bold" font-style="normal" text-anchor="start" fill="#2a2a2a">Dro.×Hum.</text>
<text x="0" y="0" transform="translate(607.5,344) rotate(30)" font-size="8.8" font-weight="bold" font-style="normal" text-anchor="start" fill="#2a2a2a">Dro.×Sal.</text>
<text x="0" y="0" transform="translate(624.75,344) rotate(30)" font-size="8.8" font-weight="bold" font-style="normal" text-anchor="start" fill="#2a2a2a">Hum.×Sal.</text>
<text x="1.5" y="396.9" font-size="12.8" font-weight="bold" font-style="normal" text-anchor="start" fill="#111">(c) Community composition</text>
<rect x="41.3" y="421.8" width="37.4" height="66.5" fill="none" stroke="#9c9c9c" stroke-width="1"/>
<line x1="41.3" y1="455.05" x2="78.7" y2="455.05" stroke="#a8a8a8" stroke-width="1.0" stroke-dasharray="1.8,2.0"/>
<line x1="39.3" y1="421.8" x2="41.3" y2="421.8" stroke="#5c5c5c" stroke-width="0.8"/>
<text x="38.3" y="424.21" font-size="6.7" font-weight="bold" font-style="normal" text-anchor="end" fill="#111">1.5</text>
<line x1="39.3" y1="432.88" x2="41.3" y2="432.88" stroke="#5c5c5c" stroke-width="0.8"/>
<text x="38.3" y="435.3" font-size="6.7" font-weight="bold" font-style="normal" text-anchor="end" fill="#111">1.0</text>
<line x1="39.3" y1="443.97" x2="41.3" y2="443.97" stroke="#5c5c5c" stroke-width="0.8"/>
<text x="38.3" y="446.38" font-size="6.7" font-weight="bold" font-style="normal" text-anchor="end" fill="#111">0.5</text>
<line x1="39.3" y1="455.05" x2="41.3" y2="455.05" stroke="#5c5c5c" stroke-width="0.8"/>
<text x="38.3" y="457.46" font-size="6.7" font-weight="bold" font-style="normal" text-anchor="end" fill="#111">0.0</text>
<line x1="39.3" y1="466.13" x2="41.3" y2="466.13" stroke="#5c5c5c" stroke-width="0.8"/>
<text x="38.3" y="468.55" font-size="6.7" font-weight="bold" font-style="normal" text-anchor="end" fill="#111">−0.5</text>
<line x1="39.3" y1="477.22" x2="41.3" y2="477.22" stroke="#5c5c5c" stroke-width="0.8"/>
<text x="38.3" y="479.63" font-size="6.7" font-weight="bold" font-style="normal" text-anchor="end" fill="#111">−1.0</text>
<line x1="39.3" y1="488.3" x2="41.3" y2="488.3" stroke="#5c5c5c" stroke-width="0.8"/>
<text x="38.3" y="490.71" font-size="6.7" font-weight="bold" font-style="normal" text-anchor="end" fill="#111">−1.5</text>
<text x="25.3" y="413.6" font-size="8.35" font-weight="bold" font-style="normal" text-anchor="start" fill="#111">Individual effect</text>
<line x1="47" y1="443.2" x2="54.6" y2="443.2" stroke="#333" stroke-width="1.1"/>
<circle cx="50.2" cy="443.2" r="1.9" fill="#ebae4e" stroke="#555" stroke-width="0.6"/>
<rect x="65.2" y="451.9" width="8.6" height="4.7" fill="#f4f4f4" stroke="#8a8a9a" stroke-width="0.6"/>
<line x1="65.2" y1="454.2" x2="73.8" y2="454.2" stroke="#8a8a9a" stroke-width="0.5"/>
<circle cx="68.7" cy="451.8" r="2.1" fill="#96d350" stroke="#5a7a3a" stroke-width="0.5"/>
<circle cx="70.4" cy="456.6" r="2.1" fill="#96d350" stroke="#5a7a3a" stroke-width="0.5"/>
<text x="0" y="0" transform="translate(45.2,496.6) rotate(30)" font-size="8.35" font-weight="bold" font-style="normal" text-anchor="start" fill="#111">Drought</text>
<text x="0" y="0" transform="translate(64.6,496.6) rotate(30)" font-size="8.35" font-weight="bold" font-style="normal" text-anchor="start" fill="#111">Metal pollution</text>
<text x="0" y="0" transform="translate(13.41,451) rotate(-90)" font-size="8.4" font-weight="bold" font-style="normal" text-anchor="middle" fill="#111">Alpha diversity</text>
<text x="0" y="0" transform="translate(23.61,451) rotate(-90)" font-size="8.7" font-weight="bold" font-style="normal" text-anchor="middle" fill="#111">Hedge's d</text>
<line x1="127.5" y1="413" x2="127.5" y2="488.7" stroke="#5c5c5c" stroke-width="0.9"/>
<line x1="125.5" y1="413" x2="127.5" y2="413" stroke="#5c5c5c" stroke-width="0.8"/>
<text x="124.9" y="415.41" font-size="6.7" font-weight="bold" font-style="normal" text-anchor="end" fill="#111">1.5</text>
<line x1="125.5" y1="425.62" x2="127.5" y2="425.62" stroke="#5c5c5c" stroke-width="0.8"/>
<text x="124.9" y="428.03" font-size="6.7" font-weight="bold" font-style="normal" text-anchor="end" fill="#111">1.0</text>
<line x1="125.5" y1="438.23" x2="127.5" y2="438.23" stroke="#5c5c5c" stroke-width="0.8"/>
<text x="124.9" y="440.65" font-size="6.7" font-weight="bold" font-style="normal" text-anchor="end" fill="#111">0.5</text>
<line x1="125.5" y1="450.85" x2="127.5" y2="450.85" stroke="#5c5c5c" stroke-width="0.8"/>
<text x="124.9" y="453.26" font-size="6.7" font-weight="bold" font-style="normal" text-anchor="end" fill="#111">0.0</text>
<line x1="125.5" y1="463.47" x2="127.5" y2="463.47" stroke="#5c5c5c" stroke-width="0.8"/>
<text x="124.9" y="465.88" font-size="6.7" font-weight="bold" font-style="normal" text-anchor="end" fill="#111">−0.5</text>
<line x1="125.5" y1="476.08" x2="127.5" y2="476.08" stroke="#5c5c5c" stroke-width="0.8"/>
<text x="124.9" y="478.5" font-size="6.7" font-weight="bold" font-style="normal" text-anchor="end" fill="#111">−1.0</text>
<line x1="125.5" y1="488.7" x2="127.5" y2="488.7" stroke="#5c5c5c" stroke-width="0.8"/>
<text x="124.9" y="491.11" font-size="6.7" font-weight="bold" font-style="normal" text-anchor="end" fill="#111">−1.5</text>
<line x1="127.5" y1="450.85" x2="203.8" y2="450.85" stroke="#5c5c5c" stroke-width="0.9"/>
<text x="129.9" y="422.6" font-size="8.6" font-weight="bold" font-style="italic" text-anchor="start" fill="#111">phoD</text>
<line x1="140.6" y1="429" x2="140.6" y2="444.3" stroke="#555" stroke-width="0.9"/>
<line x1="139" y1="429" x2="142.2" y2="429" stroke="#333" stroke-width="1.0"/>
<line x1="139" y1="444.3" x2="142.2" y2="444.3" stroke="#333" stroke-width="1.0"/>
<circle cx="140.6" cy="436.7" r="4.2" fill="#fff" stroke="#383838" stroke-width="0.85"/>
<line x1="165.6" y1="438.9" x2="165.6" y2="454.3" stroke="#555" stroke-width="0.9"/>
<line x1="164" y1="438.9" x2="167.2" y2="438.9" stroke="#333" stroke-width="1.0"/>
<line x1="164" y1="454.3" x2="167.2" y2="454.3" stroke="#333" stroke-width="1.0"/>
<circle cx="165.6" cy="446.7" r="4.2" fill="#fff" stroke="#383838" stroke-width="0.85"/>
<line x1="190.8" y1="444.3" x2="190.8" y2="460.1" stroke="#555" stroke-width="0.9"/>
<line x1="189.2" y1="444.3" x2="192.4" y2="444.3" stroke="#333" stroke-width="1.0"/>
<line x1="189.2" y1="460.1" x2="192.4" y2="460.1" stroke="#333" stroke-width="1.0"/>
<circle cx="190.8" cy="452.1" r="4.2" fill="#c8c8c8" stroke="#383838" stroke-width="0.85"/>
<text x="0" y="0" transform="translate(135.6,496.6) rotate(30)" font-size="8.35" font-weight="bold" font-style="normal" text-anchor="start" fill="#111">Drought</text>
<text x="0" y="0" transform="translate(160.6,496.6) rotate(30)" font-size="8.35" font-weight="bold" font-style="normal" text-anchor="start" fill="#111">Metal pollution</text>
<text x="0" y="0" transform="translate(185.8,496.6) rotate(30)" font-size="8.35" font-weight="bold" font-style="normal" text-anchor="start" fill="#111">Interaction</text>
<text x="0" y="0" transform="translate(98.41,451) rotate(-90)" font-size="8.4" font-weight="bold" font-style="normal" text-anchor="middle" fill="#111">Alpha diversity</text>
<text x="0" y="0" transform="translate(110.11,451) rotate(-90)" font-size="8.7" font-weight="bold" font-style="normal" text-anchor="middle" fill="#111">Hedge's d</text>
<line x1="235.4" y1="413" x2="235.4" y2="488.7" stroke="#5c5c5c" stroke-width="0.9"/>
<line x1="233.4" y1="413" x2="235.4" y2="413" stroke="#5c5c5c" stroke-width="0.8"/>
<text x="232.8" y="415.41" font-size="6.7" font-weight="bold" font-style="normal" text-anchor="end" fill="#111">1.5</text>
<line x1="233.4" y1="425.62" x2="235.4" y2="425.62" stroke="#5c5c5c" stroke-width="0.8"/>
<text x="232.8" y="428.03" font-size="6.7" font-weight="bold" font-style="normal" text-anchor="end" fill="#111">1.0</text>
<line x1="233.4" y1="438.23" x2="235.4" y2="438.23" stroke="#5c5c5c" stroke-width="0.8"/>
<text x="232.8" y="440.65" font-size="6.7" font-weight="bold" font-style="normal" text-anchor="end" fill="#111">0.5</text>
<line x1="233.4" y1="450.85" x2="235.4" y2="450.85" stroke="#5c5c5c" stroke-width="0.8"/>
<text x="232.8" y="453.26" font-size="6.7" font-weight="bold" font-style="normal" text-anchor="end" fill="#111">0.0</text>
<line x1="233.4" y1="463.47" x2="235.4" y2="463.47" stroke="#5c5c5c" stroke-width="0.8"/>
<text x="232.8" y="465.88" font-size="6.7" font-weight="bold" font-style="normal" text-anchor="end" fill="#111">−0.5</text>
<line x1="233.4" y1="476.08" x2="235.4" y2="476.08" stroke="#5c5c5c" stroke-width="0.8"/>
<text x="232.8" y="478.5" font-size="6.7" font-weight="bold" font-style="normal" text-anchor="end" fill="#111">−1.0</text>
<line x1="233.4" y1="488.7" x2="235.4" y2="488.7" stroke="#5c5c5c" stroke-width="0.8"/>
<text x="232.8" y="491.11" font-size="6.7" font-weight="bold" font-style="normal" text-anchor="end" fill="#111">−1.5</text>
<line x1="235.4" y1="450.85" x2="311.5" y2="450.85" stroke="#5c5c5c" stroke-width="0.9"/>
<text x="237.9" y="422.6" font-size="8.6" font-weight="bold" font-style="italic" text-anchor="start" fill="#111">pqqC</text>
<line x1="248.2" y1="430" x2="248.2" y2="445.2" stroke="#555" stroke-width="0.9"/>
<line x1="246.6" y1="430" x2="249.8" y2="430" stroke="#333" stroke-width="1.0"/>
<line x1="246.6" y1="445.2" x2="249.8" y2="445.2" stroke="#333" stroke-width="1.0"/>
<circle cx="248.2" cy="437.7" r="4.2" fill="#fff" stroke="#383838" stroke-width="0.85"/>
<line x1="273.4" y1="444.8" x2="273.4" y2="460" stroke="#555" stroke-width="0.9"/>
<line x1="271.8" y1="444.8" x2="275" y2="444.8" stroke="#333" stroke-width="1.0"/>
<line x1="271.8" y1="460" x2="275" y2="460" stroke="#333" stroke-width="1.0"/>
<circle cx="273.4" cy="452.7" r="4.2" fill="#fff" stroke="#383838" stroke-width="0.85"/>
<line x1="298.7" y1="443.4" x2="298.7" y2="458.5" stroke="#555" stroke-width="0.9"/>
<line x1="297.1" y1="443.4" x2="300.3" y2="443.4" stroke="#333" stroke-width="1.0"/>
<line x1="297.1" y1="458.5" x2="300.3" y2="458.5" stroke="#333" stroke-width="1.0"/>
<circle cx="298.7" cy="451" r="4.2" fill="#c8c8c8" stroke="#383838" stroke-width="0.85"/>
<text x="0" y="0" transform="translate(243.2,496.6) rotate(30)" font-size="8.35" font-weight="bold" font-style="normal" text-anchor="start" fill="#111">Drought</text>
<text x="0" y="0" transform="translate(268.4,496.6) rotate(30)" font-size="8.35" font-weight="bold" font-style="normal" text-anchor="start" fill="#111">Metal pollution</text>
<text x="0" y="0" transform="translate(293.7,496.6) rotate(30)" font-size="8.35" font-weight="bold" font-style="normal" text-anchor="start" fill="#111">Interaction</text>
<rect x="377.5" y="421.7" width="36.8" height="66.8" fill="none" stroke="#9c9c9c" stroke-width="1"/>
<line x1="377.5" y1="455.1" x2="414.3" y2="455.1" stroke="#a8a8a8" stroke-width="1.0" stroke-dasharray="1.8,2.0"/>
<line x1="375.5" y1="421.7" x2="377.5" y2="421.7" stroke="#5c5c5c" stroke-width="0.8"/>
<text x="374.5" y="424.11" font-size="6.7" font-weight="bold" font-style="normal" text-anchor="end" fill="#111">1.5</text>
<line x1="375.5" y1="432.83" x2="377.5" y2="432.83" stroke="#5c5c5c" stroke-width="0.8"/>
<text x="374.5" y="435.25" font-size="6.7" font-weight="bold" font-style="normal" text-anchor="end" fill="#111">1.0</text>
<line x1="375.5" y1="443.97" x2="377.5" y2="443.97" stroke="#5c5c5c" stroke-width="0.8"/>
<text x="374.5" y="446.38" font-size="6.7" font-weight="bold" font-style="normal" text-anchor="end" fill="#111">0.5</text>
<line x1="375.5" y1="455.1" x2="377.5" y2="455.1" stroke="#5c5c5c" stroke-width="0.8"/>
<text x="374.5" y="457.51" font-size="6.7" font-weight="bold" font-style="normal" text-anchor="end" fill="#111">0.0</text>
<line x1="375.5" y1="466.23" x2="377.5" y2="466.23" stroke="#5c5c5c" stroke-width="0.8"/>
<text x="374.5" y="468.65" font-size="6.7" font-weight="bold" font-style="normal" text-anchor="end" fill="#111">−0.5</text>
<line x1="375.5" y1="477.37" x2="377.5" y2="477.37" stroke="#5c5c5c" stroke-width="0.8"/>
<text x="374.5" y="479.78" font-size="6.7" font-weight="bold" font-style="normal" text-anchor="end" fill="#111">−1.0</text>
<line x1="375.5" y1="488.5" x2="377.5" y2="488.5" stroke="#5c5c5c" stroke-width="0.8"/>
<text x="374.5" y="490.91" font-size="6.7" font-weight="bold" font-style="normal" text-anchor="end" fill="#111">−1.5</text>
<text x="358.5" y="413.6" font-size="8.35" font-weight="bold" font-style="normal" text-anchor="start" fill="#111">Individual effect</text>
<rect x="383" y="466.6" width="6.6" height="8.2" fill="#f4f4f4" stroke="#666a7a" stroke-width="0.6"/>
<line x1="383" y1="470.6" x2="389.6" y2="470.6" stroke="#666a7a" stroke-width="0.6"/>
<circle cx="385.5" cy="466.9" r="2.1" fill="#ebae4e" stroke="#8a6a30" stroke-width="0.5"/>
<circle cx="385.7" cy="474.8" r="2.1" fill="#ebae4e" stroke="#8a6a30" stroke-width="0.5"/>
<rect x="401.2" y="448.9" width="7.6" height="2.4" fill="#eeeeee" stroke="#8a8a9a" stroke-width="0.5"/>
<circle cx="404.1" cy="448.9" r="2.1" fill="#96d350" stroke="#5a7a3a" stroke-width="0.5"/>
<circle cx="405.8" cy="451.0" r="2.1" fill="#96d350" stroke="#5a7a3a" stroke-width="0.5"/>
<text x="0" y="0" transform="translate(381,496.6) rotate(30)" font-size="8.35" font-weight="bold" font-style="normal" text-anchor="start" fill="#111">Drought</text>
<text x="0" y="0" transform="translate(400,496.6) rotate(30)" font-size="8.35" font-weight="bold" font-style="normal" text-anchor="start" fill="#111">Metal pollution</text>
<text x="0" y="0" transform="translate(348.31,450) rotate(-90)" font-size="8.4" font-weight="bold" font-style="normal" text-anchor="middle" fill="#111">Community dissimilarity</text>
<text x="0" y="0" transform="translate(358.41,451) rotate(-90)" font-size="8.7" font-weight="bold" font-style="normal" text-anchor="middle" fill="#111">Hedge's d</text>
<line x1="466" y1="413" x2="466" y2="488.7" stroke="#5c5c5c" stroke-width="0.9"/>
<line x1="464" y1="413" x2="466" y2="413" stroke="#5c5c5c" stroke-width="0.8"/>
<text x="463.4" y="415.41" font-size="6.7" font-weight="bold" font-style="normal" text-anchor="end" fill="#111">1.5</text>
<line x1="464" y1="425.62" x2="466" y2="425.62" stroke="#5c5c5c" stroke-width="0.8"/>
<text x="463.4" y="428.03" font-size="6.7" font-weight="bold" font-style="normal" text-anchor="end" fill="#111">1.0</text>
<line x1="464" y1="438.23" x2="466" y2="438.23" stroke="#5c5c5c" stroke-width="0.8"/>
<text x="463.4" y="440.65" font-size="6.7" font-weight="bold" font-style="normal" text-anchor="end" fill="#111">0.5</text>
<line x1="464" y1="450.85" x2="466" y2="450.85" stroke="#5c5c5c" stroke-width="0.8"/>
<text x="463.4" y="453.26" font-size="6.7" font-weight="bold" font-style="normal" text-anchor="end" fill="#111">0.0</text>
<line x1="464" y1="463.47" x2="466" y2="463.47" stroke="#5c5c5c" stroke-width="0.8"/>
<text x="463.4" y="465.88" font-size="6.7" font-weight="bold" font-style="normal" text-anchor="end" fill="#111">−0.5</text>
<line x1="464" y1="476.08" x2="466" y2="476.08" stroke="#5c5c5c" stroke-width="0.8"/>
<text x="463.4" y="478.5" font-size="6.7" font-weight="bold" font-style="normal" text-anchor="end" fill="#111">−1.0</text>
<line x1="464" y1="488.7" x2="466" y2="488.7" stroke="#5c5c5c" stroke-width="0.8"/>
<text x="463.4" y="491.11" font-size="6.7" font-weight="bold" font-style="normal" text-anchor="end" fill="#111">−1.5</text>
<line x1="466" y1="450.85" x2="542.1" y2="450.85" stroke="#5c5c5c" stroke-width="0.9"/>
<text x="468.6" y="422.4" font-size="8.6" font-weight="bold" font-style="italic" text-anchor="start" fill="#111">phoD</text>
<line x1="479.1" y1="456.3" x2="479.1" y2="471.2" stroke="#555" stroke-width="0.9"/>
<line x1="477.5" y1="456.3" x2="480.7" y2="456.3" stroke="#333" stroke-width="1.0"/>
<line x1="477.5" y1="471.2" x2="480.7" y2="471.2" stroke="#333" stroke-width="1.0"/>
<circle cx="479.1" cy="464" r="4.2" fill="#fff" stroke="#383838" stroke-width="0.85"/>
<line x1="504.3" y1="435.5" x2="504.3" y2="451.5" stroke="#555" stroke-width="0.9"/>
<line x1="502.7" y1="435.5" x2="505.9" y2="435.5" stroke="#333" stroke-width="1.0"/>
<line x1="502.7" y1="451.5" x2="505.9" y2="451.5" stroke="#333" stroke-width="1.0"/>
<circle cx="504.3" cy="443.2" r="4.2" fill="#fff" stroke="#383838" stroke-width="0.85"/>
<line x1="529.4" y1="431.8" x2="529.4" y2="447.1" stroke="#555" stroke-width="0.9"/>
<line x1="527.8" y1="431.8" x2="531" y2="431.8" stroke="#333" stroke-width="1.0"/>
<line x1="527.8" y1="447.1" x2="531" y2="447.1" stroke="#333" stroke-width="1.0"/>
<circle cx="529.4" cy="439.9" r="4.2" fill="#64c8b4" stroke="#383838" stroke-width="0.85"/>
<text x="0" y="0" transform="translate(474.1,496.6) rotate(30)" font-size="8.35" font-weight="bold" font-style="normal" text-anchor="start" fill="#111">Drought</text>
<text x="0" y="0" transform="translate(499.3,496.6) rotate(30)" font-size="8.35" font-weight="bold" font-style="normal" text-anchor="start" fill="#111">Metal pollution</text>
<text x="0" y="0" transform="translate(524.4,496.6) rotate(30)" font-size="8.35" font-weight="bold" font-style="normal" text-anchor="start" fill="#111">Interaction</text>
<text x="0" y="0" transform="translate(434.71,450) rotate(-90)" font-size="8.4" font-weight="bold" font-style="normal" text-anchor="middle" fill="#111">Community dissimilarity</text>
<text x="0" y="0" transform="translate(447.61,450.5) rotate(-90)" font-size="8.7" font-weight="bold" font-style="normal" text-anchor="middle" fill="#111">Hedge's d</text>
<line x1="575" y1="413" x2="575" y2="488.7" stroke="#5c5c5c" stroke-width="0.9"/>
<line x1="573" y1="413" x2="575" y2="413" stroke="#5c5c5c" stroke-width="0.8"/>
<text x="572.4" y="415.41" font-size="6.7" font-weight="bold" font-style="normal" text-anchor="end" fill="#111">1.5</text>
<line x1="573" y1="425.62" x2="575" y2="425.62" stroke="#5c5c5c" stroke-width="0.8"/>
<text x="572.4" y="428.03" font-size="6.7" font-weight="bold" font-style="normal" text-anchor="end" fill="#111">1.0</text>
<line x1="573" y1="438.23" x2="575" y2="438.23" stroke="#5c5c5c" stroke-width="0.8"/>
<text x="572.4" y="440.65" font-size="6.7" font-weight="bold" font-style="normal" text-anchor="end" fill="#111">0.5</text>
<line x1="573" y1="450.85" x2="575" y2="450.85" stroke="#5c5c5c" stroke-width="0.8"/>
<text x="572.4" y="453.26" font-size="6.7" font-weight="bold" font-style="normal" text-anchor="end" fill="#111">0.0</text>
<line x1="573" y1="463.47" x2="575" y2="463.47" stroke="#5c5c5c" stroke-width="0.8"/>
<text x="572.4" y="465.88" font-size="6.7" font-weight="bold" font-style="normal" text-anchor="end" fill="#111">−0.5</text>
<line x1="573" y1="476.08" x2="575" y2="476.08" stroke="#5c5c5c" stroke-width="0.8"/>
<text x="572.4" y="478.5" font-size="6.7" font-weight="bold" font-style="normal" text-anchor="end" fill="#111">−1.0</text>
<line x1="573" y1="488.7" x2="575" y2="488.7" stroke="#5c5c5c" stroke-width="0.8"/>
<text x="572.4" y="491.11" font-size="6.7" font-weight="bold" font-style="normal" text-anchor="end" fill="#111">−1.5</text>
<line x1="575" y1="450.85" x2="650.3" y2="450.85" stroke="#5c5c5c" stroke-width="0.9"/>
<text x="576.7" y="422.6" font-size="8.6" font-weight="bold" font-style="italic" text-anchor="start" fill="#111">pqqC</text>
<line x1="587.3" y1="465.5" x2="587.3" y2="480.4" stroke="#555" stroke-width="0.9"/>
<line x1="585.7" y1="465.5" x2="588.9" y2="465.5" stroke="#333" stroke-width="1.0"/>
<line x1="585.7" y1="480.4" x2="588.9" y2="480.4" stroke="#333" stroke-width="1.0"/>
<circle cx="587.3" cy="472.7" r="4.2" fill="#fff" stroke="#383838" stroke-width="0.85"/>
<line x1="612.4" y1="438.5" x2="612.4" y2="453.7" stroke="#555" stroke-width="0.9"/>
<line x1="610.8" y1="438.5" x2="614" y2="438.5" stroke="#333" stroke-width="1.0"/>
<line x1="610.8" y1="453.7" x2="614" y2="453.7" stroke="#333" stroke-width="1.0"/>
<circle cx="612.4" cy="446.1" r="4.2" fill="#fff" stroke="#383838" stroke-width="0.85"/>
<line x1="637.6" y1="435.5" x2="637.6" y2="450.2" stroke="#555" stroke-width="0.9"/>
<line x1="636" y1="435.5" x2="639.2" y2="435.5" stroke="#333" stroke-width="1.0"/>
<line x1="636" y1="450.2" x2="639.2" y2="450.2" stroke="#333" stroke-width="1.0"/>
<circle cx="637.6" cy="443" r="4.2" fill="#64c8b4" stroke="#383838" stroke-width="0.85"/>
<text x="0" y="0" transform="translate(582.3,496.6) rotate(30)" font-size="8.35" font-weight="bold" font-style="normal" text-anchor="start" fill="#111">Drought</text>
<text x="0" y="0" transform="translate(607.4,496.6) rotate(30)" font-size="8.35" font-weight="bold" font-style="normal" text-anchor="start" fill="#111">Metal pollution</text>
<text x="0" y="0" transform="translate(632.6,496.6) rotate(30)" font-size="8.35" font-weight="bold" font-style="normal" text-anchor="start" fill="#111">Interaction</text>
<text x="1.5" y="546.6" font-size="12.8" font-weight="bold" font-style="normal" text-anchor="start" fill="#111">(d) Abundance (genus-level)</text>
<line x1="26.4" y1="558.6" x2="26.4" y2="630.3" stroke="#5c5c5c" stroke-width="0.9"/>
<line x1="24.4" y1="558.6" x2="26.4" y2="558.6" stroke="#5c5c5c" stroke-width="0.8"/>
<text x="23.8" y="560.72" font-size="5.9" font-weight="bold" font-style="normal" text-anchor="end" fill="#111">1.5</text>
<line x1="24.4" y1="570.55" x2="26.4" y2="570.55" stroke="#5c5c5c" stroke-width="0.8"/>
<text x="23.8" y="572.67" font-size="5.9" font-weight="bold" font-style="normal" text-anchor="end" fill="#111">1.0</text>
<line x1="24.4" y1="582.5" x2="26.4" y2="582.5" stroke="#5c5c5c" stroke-width="0.8"/>
<text x="23.8" y="584.62" font-size="5.9" font-weight="bold" font-style="normal" text-anchor="end" fill="#111">0.5</text>
<line x1="24.4" y1="594.45" x2="26.4" y2="594.45" stroke="#5c5c5c" stroke-width="0.8"/>
<text x="23.8" y="596.57" font-size="5.9" font-weight="bold" font-style="normal" text-anchor="end" fill="#111">0.0</text>
<line x1="24.4" y1="606.4" x2="26.4" y2="606.4" stroke="#5c5c5c" stroke-width="0.8"/>
<text x="23.8" y="608.52" font-size="5.9" font-weight="bold" font-style="normal" text-anchor="end" fill="#111">−0.5</text>
<line x1="24.4" y1="618.35" x2="26.4" y2="618.35" stroke="#5c5c5c" stroke-width="0.8"/>
<text x="23.8" y="620.47" font-size="5.9" font-weight="bold" font-style="normal" text-anchor="end" fill="#111">−1.0</text>
<line x1="24.4" y1="630.3" x2="26.4" y2="630.3" stroke="#5c5c5c" stroke-width="0.8"/>
<text x="23.8" y="632.42" font-size="5.9" font-weight="bold" font-style="normal" text-anchor="end" fill="#111">−1.5</text>
<line x1="26.4" y1="594.45" x2="109.4" y2="594.45" stroke="#5c5c5c" stroke-width="0.9"/>
<text x="28.9" y="561.9" font-size="7.75" fill="#1a1a1a"><tspan font-weight="bold" font-style="italic">phoD</tspan><tspan font-weight="bold">-Streptomyces</tspan></text>
<line x1="40.2" y1="574.6" x2="40.2" y2="589.8" stroke="#555" stroke-width="0.9"/>
<line x1="38.6" y1="574.6" x2="41.8" y2="574.6" stroke="#333" stroke-width="1.0"/>
<line x1="38.6" y1="589.8" x2="41.8" y2="589.8" stroke="#333" stroke-width="1.0"/>
<circle cx="40.2" cy="582" r="4.2" fill="#fff" stroke="#383838" stroke-width="0.85"/>
<line x1="67.6" y1="598.3" x2="67.6" y2="613.2" stroke="#555" stroke-width="0.9"/>
<line x1="66" y1="598.3" x2="69.2" y2="598.3" stroke="#333" stroke-width="1.0"/>
<line x1="66" y1="613.2" x2="69.2" y2="613.2" stroke="#333" stroke-width="1.0"/>
<circle cx="67.6" cy="606.1" r="4.2" fill="#fff" stroke="#383838" stroke-width="0.85"/>
<line x1="95.3" y1="594.9" x2="95.3" y2="610.6" stroke="#555" stroke-width="0.9"/>
<line x1="93.7" y1="594.9" x2="96.9" y2="594.9" stroke="#333" stroke-width="1.0"/>
<line x1="93.7" y1="610.6" x2="96.9" y2="610.6" stroke="#333" stroke-width="1.0"/>
<circle cx="95.3" cy="603.2" r="4.2" fill="#64c8b4" stroke="#383838" stroke-width="0.85"/>
<text x="0" y="0" transform="translate(35.2,636.1) rotate(30)" font-size="7.8" font-weight="bold" font-style="normal" text-anchor="start" fill="#111">Drought</text>
<text x="0" y="0" transform="translate(62.6,636.1) rotate(30)" font-size="7.8" font-weight="bold" font-style="normal" text-anchor="start" fill="#111">Acidification</text>
<text x="0" y="0" transform="translate(90.3,636.1) rotate(30)" font-size="7.8" font-weight="bold" font-style="normal" text-anchor="start" fill="#111">Interaction</text>
<text x="0" y="0" transform="translate(8.42,594.9) rotate(-90)" font-size="7.6" font-weight="bold" font-style="normal" text-anchor="middle" fill="#111">Hedge's d</text>
<line x1="147" y1="558.6" x2="149" y2="558.6" stroke="#5c5c5c" stroke-width="0.8"/>
<text x="146.4" y="560.72" font-size="5.9" font-weight="bold" font-style="normal" text-anchor="end" fill="#111">1.5</text>
<line x1="147" y1="570.55" x2="149" y2="570.55" stroke="#5c5c5c" stroke-width="0.8"/>
<text x="146.4" y="572.67" font-size="5.9" font-weight="bold" font-style="normal" text-anchor="end" fill="#111">1.0</text>
<line x1="147" y1="582.5" x2="149" y2="582.5" stroke="#5c5c5c" stroke-width="0.8"/>
<text x="146.4" y="584.62" font-size="5.9" font-weight="bold" font-style="normal" text-anchor="end" fill="#111">0.5</text>
<line x1="147" y1="594.45" x2="149" y2="594.45" stroke="#5c5c5c" stroke-width="0.8"/>
<text x="146.4" y="596.57" font-size="5.9" font-weight="bold" font-style="normal" text-anchor="end" fill="#111">0.0</text>
<line x1="147" y1="606.4" x2="149" y2="606.4" stroke="#5c5c5c" stroke-width="0.8"/>
<text x="146.4" y="608.52" font-size="5.9" font-weight="bold" font-style="normal" text-anchor="end" fill="#111">−0.5</text>
<line x1="147" y1="618.35" x2="149" y2="618.35" stroke="#5c5c5c" stroke-width="0.8"/>
<text x="146.4" y="620.47" font-size="5.9" font-weight="bold" font-style="normal" text-anchor="end" fill="#111">−1.0</text>
<line x1="147" y1="630.3" x2="149" y2="630.3" stroke="#5c5c5c" stroke-width="0.8"/>
<text x="146.4" y="632.42" font-size="5.9" font-weight="bold" font-style="normal" text-anchor="end" fill="#111">−1.5</text>
<line x1="149" y1="594.45" x2="232.2" y2="594.45" stroke="#5c5c5c" stroke-width="0.9"/>
<text x="151.5" y="561.9" font-size="7.75" fill="#1a1a1a"><tspan font-weight="bold" font-style="italic">phoD</tspan><tspan font-weight="bold">-Mesorhizobium</tspan></text>
<line x1="163.2" y1="579.9" x2="163.2" y2="594.3" stroke="#555" stroke-width="0.9"/>
<line x1="161.6" y1="579.9" x2="164.8" y2="579.9" stroke="#333" stroke-width="1.0"/>
<line x1="161.6" y1="594.3" x2="164.8" y2="594.3" stroke="#333" stroke-width="1.0"/>
<circle cx="163.2" cy="587.1" r="4.2" fill="#fff" stroke="#383838" stroke-width="0.85"/>
<line x1="190.6" y1="580.5" x2="190.6" y2="594.7" stroke="#555" stroke-width="0.9"/>
<line x1="189" y1="580.5" x2="192.2" y2="580.5" stroke="#333" stroke-width="1.0"/>
<line x1="189" y1="594.7" x2="192.2" y2="594.7" stroke="#333" stroke-width="1.0"/>
<circle cx="190.6" cy="588.2" r="4.2" fill="#fff" stroke="#383838" stroke-width="0.85"/>
<line x1="218.4" y1="577.2" x2="218.4" y2="591.9" stroke="#555" stroke-width="0.9"/>
<line x1="216.8" y1="577.2" x2="220" y2="577.2" stroke="#333" stroke-width="1.0"/>
<line x1="216.8" y1="591.9" x2="220" y2="591.9" stroke="#333" stroke-width="1.0"/>
<circle cx="218.4" cy="584.4" r="4.2" fill="#f25a45" stroke="#383838" stroke-width="0.85"/>
<text x="0" y="0" transform="translate(158.2,636.1) rotate(30)" font-size="7.8" font-weight="bold" font-style="normal" text-anchor="start" fill="#111">Drought</text>
<text x="0" y="0" transform="translate(185.6,636.1) rotate(30)" font-size="7.8" font-weight="bold" font-style="normal" text-anchor="start" fill="#111">Acidification</text>
<text x="0" y="0" transform="translate(213.4,636.1) rotate(30)" font-size="7.8" font-weight="bold" font-style="normal" text-anchor="start" fill="#111">Interaction</text>
<line x1="269.7" y1="558.6" x2="269.7" y2="630.3" stroke="#5c5c5c" stroke-width="0.9"/>
<line x1="267.7" y1="558.6" x2="269.7" y2="558.6" stroke="#5c5c5c" stroke-width="0.8"/>
<text x="267.1" y="560.72" font-size="5.9" font-weight="bold" font-style="normal" text-anchor="end" fill="#111">1.5</text>
<line x1="267.7" y1="570.55" x2="269.7" y2="570.55" stroke="#5c5c5c" stroke-width="0.8"/>
<text x="267.1" y="572.67" font-size="5.9" font-weight="bold" font-style="normal" text-anchor="end" fill="#111">1.0</text>
<line x1="267.7" y1="582.5" x2="269.7" y2="582.5" stroke="#5c5c5c" stroke-width="0.8"/>
<text x="267.1" y="584.62" font-size="5.9" font-weight="bold" font-style="normal" text-anchor="end" fill="#111">0.5</text>
<line x1="267.7" y1="594.45" x2="269.7" y2="594.45" stroke="#5c5c5c" stroke-width="0.8"/>
<text x="267.1" y="596.57" font-size="5.9" font-weight="bold" font-style="normal" text-anchor="end" fill="#111">0.0</text>
<line x1="267.7" y1="606.4" x2="269.7" y2="606.4" stroke="#5c5c5c" stroke-width="0.8"/>
<text x="267.1" y="608.52" font-size="5.9" font-weight="bold" font-style="normal" text-anchor="end" fill="#111">−0.5</text>
<line x1="267.7" y1="618.35" x2="269.7" y2="618.35" stroke="#5c5c5c" stroke-width="0.8"/>
<text x="267.1" y="620.47" font-size="5.9" font-weight="bold" font-style="normal" text-anchor="end" fill="#111">−1.0</text>
<line x1="267.7" y1="630.3" x2="269.7" y2="630.3" stroke="#5c5c5c" stroke-width="0.8"/>
<text x="267.1" y="632.42" font-size="5.9" font-weight="bold" font-style="normal" text-anchor="end" fill="#111">−1.5</text>
<line x1="269.7" y1="594.45" x2="352.5" y2="594.45" stroke="#5c5c5c" stroke-width="0.9"/>
<text x="272.2" y="561.9" font-size="7.75" fill="#1a1a1a"><tspan font-weight="bold" font-style="italic">phoD</tspan><tspan font-weight="bold">-Stenotrophomonas</tspan></text>
<line x1="283.5" y1="582.7" x2="283.5" y2="598" stroke="#555" stroke-width="0.9"/>
<line x1="281.9" y1="582.7" x2="285.1" y2="582.7" stroke="#333" stroke-width="1.0"/>
<line x1="281.9" y1="598" x2="285.1" y2="598" stroke="#333" stroke-width="1.0"/>
<circle cx="283.5" cy="590.4" r="4.2" fill="#fff" stroke="#383838" stroke-width="0.85"/>
<line x1="311.3" y1="591.5" x2="311.3" y2="606.1" stroke="#555" stroke-width="0.9"/>
<line x1="309.7" y1="591.5" x2="312.9" y2="591.5" stroke="#333" stroke-width="1.0"/>
<line x1="309.7" y1="606.1" x2="312.9" y2="606.1" stroke="#333" stroke-width="1.0"/>
<circle cx="311.3" cy="598.7" r="4.2" fill="#fff" stroke="#383838" stroke-width="0.85"/>
<line x1="338.7" y1="595.8" x2="338.7" y2="610.1" stroke="#555" stroke-width="0.9"/>
<line x1="337.1" y1="595.8" x2="340.3" y2="595.8" stroke="#333" stroke-width="1.0"/>
<line x1="337.1" y1="610.1" x2="340.3" y2="610.1" stroke="#333" stroke-width="1.0"/>
<circle cx="338.7" cy="602.8" r="4.2" fill="#f25a45" stroke="#383838" stroke-width="0.85"/>
<text x="0" y="0" transform="translate(278.5,636.1) rotate(30)" font-size="7.8" font-weight="bold" font-style="normal" text-anchor="start" fill="#111">Drought</text>
<text x="0" y="0" transform="translate(306.3,636.1) rotate(30)" font-size="7.8" font-weight="bold" font-style="normal" text-anchor="start" fill="#111">Acidification</text>
<text x="0" y="0" transform="translate(333.7,636.1) rotate(30)" font-size="7.8" font-weight="bold" font-style="normal" text-anchor="start" fill="#111">Interaction</text>
<line x1="395.8" y1="558.6" x2="395.8" y2="630.3" stroke="#5c5c5c" stroke-width="0.9"/>
<line x1="393.8" y1="558.6" x2="395.8" y2="558.6" stroke="#5c5c5c" stroke-width="0.8"/>
<text x="393.2" y="560.72" font-size="5.9" font-weight="bold" font-style="normal" text-anchor="end" fill="#111">1.5</text>
<line x1="393.8" y1="570.55" x2="395.8" y2="570.55" stroke="#5c5c5c" stroke-width="0.8"/>
<text x="393.2" y="572.67" font-size="5.9" font-weight="bold" font-style="normal" text-anchor="end" fill="#111">1.0</text>
<line x1="393.8" y1="582.5" x2="395.8" y2="582.5" stroke="#5c5c5c" stroke-width="0.8"/>
<text x="393.2" y="584.62" font-size="5.9" font-weight="bold" font-style="normal" text-anchor="end" fill="#111">0.5</text>
<line x1="393.8" y1="594.45" x2="395.8" y2="594.45" stroke="#5c5c5c" stroke-width="0.8"/>
<text x="393.2" y="596.57" font-size="5.9" font-weight="bold" font-style="normal" text-anchor="end" fill="#111">0.0</text>
<line x1="393.8" y1="606.4" x2="395.8" y2="606.4" stroke="#5c5c5c" stroke-width="0.8"/>
<text x="393.2" y="608.52" font-size="5.9" font-weight="bold" font-style="normal" text-anchor="end" fill="#111">−0.5</text>
<line x1="393.8" y1="618.35" x2="395.8" y2="618.35" stroke="#5c5c5c" stroke-width="0.8"/>
<text x="393.2" y="620.47" font-size="5.9" font-weight="bold" font-style="normal" text-anchor="end" fill="#111">−1.0</text>
<line x1="393.8" y1="630.3" x2="395.8" y2="630.3" stroke="#5c5c5c" stroke-width="0.8"/>
<text x="393.2" y="632.42" font-size="5.9" font-weight="bold" font-style="normal" text-anchor="end" fill="#111">−1.5</text>
<line x1="395.8" y1="594.45" x2="478.8" y2="594.45" stroke="#5c5c5c" stroke-width="0.9"/>
<text x="398.3" y="561.9" font-size="7.75" fill="#1a1a1a"><tspan font-weight="bold" font-style="italic">pqqC</tspan><tspan font-weight="bold">-Mycolicibacterium</tspan></text>
<line x1="409.9" y1="567.4" x2="409.9" y2="582.3" stroke="#555" stroke-width="0.9"/>
<line x1="408.3" y1="567.4" x2="411.5" y2="567.4" stroke="#333" stroke-width="1.0"/>
<line x1="408.3" y1="582.3" x2="411.5" y2="582.3" stroke="#333" stroke-width="1.0"/>
<circle cx="409.9" cy="574.6" r="4.2" fill="#fff" stroke="#383838" stroke-width="0.85"/>
<line x1="437.2" y1="577.2" x2="437.2" y2="592.1" stroke="#555" stroke-width="0.9"/>
<line x1="435.6" y1="577.2" x2="438.8" y2="577.2" stroke="#333" stroke-width="1.0"/>
<line x1="435.6" y1="592.1" x2="438.8" y2="592.1" stroke="#333" stroke-width="1.0"/>
<circle cx="437.2" cy="584.4" r="4.2" fill="#fff" stroke="#383838" stroke-width="0.85"/>
<line x1="464.6" y1="576.1" x2="464.6" y2="591" stroke="#555" stroke-width="0.9"/>
<line x1="463" y1="576.1" x2="466.2" y2="576.1" stroke="#333" stroke-width="1.0"/>
<line x1="463" y1="591" x2="466.2" y2="591" stroke="#333" stroke-width="1.0"/>
<circle cx="464.6" cy="583.4" r="4.2" fill="#f25a45" stroke="#383838" stroke-width="0.85"/>
<text x="0" y="0" transform="translate(404.9,636.1) rotate(30)" font-size="7.8" font-weight="bold" font-style="normal" text-anchor="start" fill="#111">Drought</text>
<text x="0" y="0" transform="translate(432.2,636.1) rotate(30)" font-size="7.8" font-weight="bold" font-style="normal" text-anchor="start" fill="#111">Acidification</text>
<text x="0" y="0" transform="translate(459.6,636.1) rotate(30)" font-size="7.8" font-weight="bold" font-style="normal" text-anchor="start" fill="#111">Interaction</text>
<line x1="520.5" y1="558.6" x2="520.5" y2="630.3" stroke="#5c5c5c" stroke-width="0.9"/>
<line x1="518.5" y1="558.6" x2="520.5" y2="558.6" stroke="#5c5c5c" stroke-width="0.8"/>
<text x="517.9" y="560.72" font-size="5.9" font-weight="bold" font-style="normal" text-anchor="end" fill="#111">1.5</text>
<line x1="518.5" y1="570.55" x2="520.5" y2="570.55" stroke="#5c5c5c" stroke-width="0.8"/>
<text x="517.9" y="572.67" font-size="5.9" font-weight="bold" font-style="normal" text-anchor="end" fill="#111">1.0</text>
<line x1="518.5" y1="582.5" x2="520.5" y2="582.5" stroke="#5c5c5c" stroke-width="0.8"/>
<text x="517.9" y="584.62" font-size="5.9" font-weight="bold" font-style="normal" text-anchor="end" fill="#111">0.5</text>
<line x1="518.5" y1="594.45" x2="520.5" y2="594.45" stroke="#5c5c5c" stroke-width="0.8"/>
<text x="517.9" y="596.57" font-size="5.9" font-weight="bold" font-style="normal" text-anchor="end" fill="#111">0.0</text>
<line x1="518.5" y1="606.4" x2="520.5" y2="606.4" stroke="#5c5c5c" stroke-width="0.8"/>
<text x="517.9" y="608.52" font-size="5.9" font-weight="bold" font-style="normal" text-anchor="end" fill="#111">−0.5</text>
<line x1="518.5" y1="618.35" x2="520.5" y2="618.35" stroke="#5c5c5c" stroke-width="0.8"/>
<text x="517.9" y="620.47" font-size="5.9" font-weight="bold" font-style="normal" text-anchor="end" fill="#111">−1.0</text>
<line x1="518.5" y1="630.3" x2="520.5" y2="630.3" stroke="#5c5c5c" stroke-width="0.8"/>
<text x="517.9" y="632.42" font-size="5.9" font-weight="bold" font-style="normal" text-anchor="end" fill="#111">−1.5</text>
<line x1="520.5" y1="594.45" x2="603.2" y2="594.45" stroke="#5c5c5c" stroke-width="0.9"/>
<text x="523" y="561.9" font-size="7.75" fill="#1a1a1a"><tspan font-weight="bold" font-style="italic">pqqC</tspan><tspan font-weight="bold">-Methylobacterium</tspan></text>
<line x1="534.7" y1="576.6" x2="534.7" y2="591.3" stroke="#555" stroke-width="0.9"/>
<line x1="533.1" y1="576.6" x2="536.3" y2="576.6" stroke="#333" stroke-width="1.0"/>
<line x1="533.1" y1="591.3" x2="536.3" y2="591.3" stroke="#333" stroke-width="1.0"/>
<circle cx="534.7" cy="583.8" r="4.2" fill="#fff" stroke="#383838" stroke-width="0.85"/>
<line x1="562.1" y1="595.5" x2="562.1" y2="609.3" stroke="#555" stroke-width="0.9"/>
<line x1="560.5" y1="595.5" x2="563.7" y2="595.5" stroke="#333" stroke-width="1.0"/>
<line x1="560.5" y1="609.3" x2="563.7" y2="609.3" stroke="#333" stroke-width="1.0"/>
<circle cx="562.1" cy="601.6" r="4.2" fill="#fff" stroke="#383838" stroke-width="0.85"/>
<line x1="589.9" y1="596.3" x2="589.9" y2="610.2" stroke="#555" stroke-width="0.9"/>
<line x1="588.3" y1="596.3" x2="591.5" y2="596.3" stroke="#333" stroke-width="1.0"/>
<line x1="588.3" y1="610.2" x2="591.5" y2="610.2" stroke="#333" stroke-width="1.0"/>
<circle cx="589.9" cy="603.8" r="4.2" fill="#64c8b4" stroke="#383838" stroke-width="0.85"/>
<text x="0" y="0" transform="translate(529.7,636.1) rotate(30)" font-size="7.8" font-weight="bold" font-style="normal" text-anchor="start" fill="#111">Drought</text>
<text x="0" y="0" transform="translate(557.1,636.1) rotate(30)" font-size="7.8" font-weight="bold" font-style="normal" text-anchor="start" fill="#111">Metal pollution</text>
<text x="0" y="0" transform="translate(584.9,636.1) rotate(30)" font-size="7.8" font-weight="bold" font-style="normal" text-anchor="start" fill="#111">Interaction</text>
<circle cx="626.2" cy="579.2" r="5.7" fill="#c8c8c8" stroke="#555" stroke-width="0.8"/>
<text x="636.6" y="582" font-size="7.6" font-weight="bold" font-style="normal" text-anchor="start" fill="#111">Additive</text>
<circle cx="626.2" cy="594.6" r="5.7" fill="#f25a45" stroke="#555" stroke-width="0.8"/>
<text x="636.6" y="597.4" font-size="7.6" font-weight="bold" font-style="normal" text-anchor="start" fill="#111">Synergistic</text>
<circle cx="626.2" cy="610.1" r="5.7" fill="#64c8b4" stroke="#555" stroke-width="0.8"/>
<text x="636.6" y="612.9" font-size="7.6" font-weight="bold" font-style="normal" text-anchor="start" fill="#111">Antagonistic</text>
</svg>
</body></html>
